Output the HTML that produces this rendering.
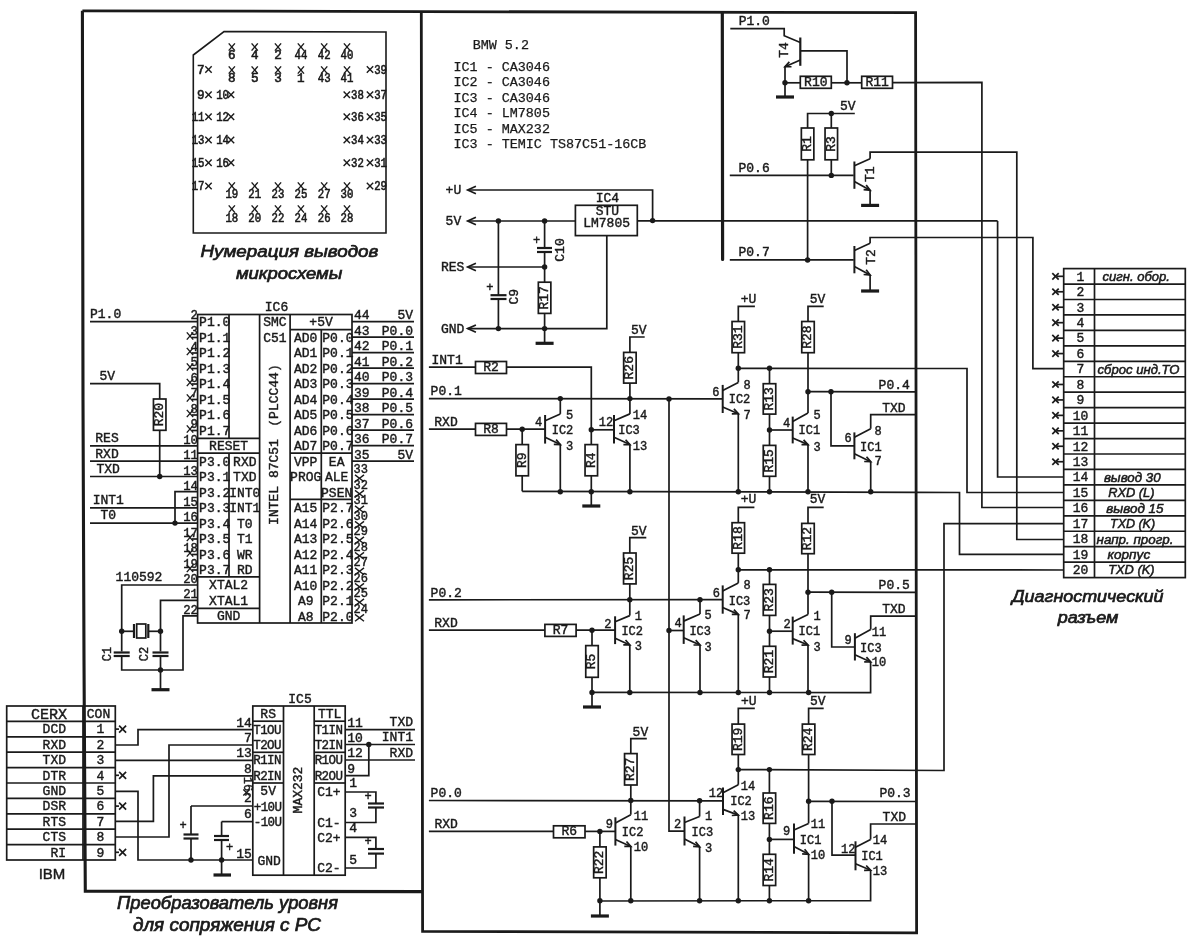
<!DOCTYPE html>
<html><head><meta charset="utf-8"><title>BMW 5.2 diagnostic adapter schematic</title>
<style>html,body{margin:0;padding:0;background:#fff;}svg{display:block;will-change:transform;} text{stroke:#1a1a1a;stroke-width:0.42px;}</style></head>
<body><svg width="1200" height="943" viewBox="0 0 1200 943">
<rect width="1200" height="943" fill="#fff"/>
<path d="M82.4,10.8 L915.6,12.7 L916.6,932.9 L422.6,931.4 L421.3,11.5" fill="none" stroke="#1a1a1a" stroke-width="2.8" stroke-linejoin="miter"/>
<path d="M82.4,10.8 L83,400 L84,660 L85.3,891.2 L422.2,891.6" fill="none" stroke="#1a1a1a" stroke-width="3.1" stroke-linejoin="miter"/>
<line x1="722.3" y1="13" x2="722.6" y2="259.5" stroke="#1a1a1a" stroke-width="3.2" stroke-linecap="round"/>
<path d="M224,31.5 L386,32 L386,233 L193.3,233 L193.3,55 Z" fill="none" stroke="#1a1a1a" stroke-width="1.6"/>
<line x1="228.70000000000002" y1="43.4" x2="234.9" y2="50.6" stroke="#1a1a1a" stroke-width="1.4"/>
<line x1="228.70000000000002" y1="50.6" x2="234.9" y2="43.4" stroke="#1a1a1a" stroke-width="1.4"/>
<text x="231.8" y="59.35" font-family="Liberation Mono" font-size="12.6" text-anchor="middle" style="stroke-width:0.6px" fill="#1a1a1a">6</text>
<line x1="251.6" y1="43.4" x2="257.8" y2="50.6" stroke="#1a1a1a" stroke-width="1.4"/>
<line x1="251.6" y1="50.6" x2="257.8" y2="43.4" stroke="#1a1a1a" stroke-width="1.4"/>
<text x="254.7" y="59.35" font-family="Liberation Mono" font-size="12.6" text-anchor="middle" style="stroke-width:0.6px" fill="#1a1a1a">4</text>
<line x1="274.9" y1="43.4" x2="281.1" y2="50.6" stroke="#1a1a1a" stroke-width="1.4"/>
<line x1="274.9" y1="50.6" x2="281.1" y2="43.4" stroke="#1a1a1a" stroke-width="1.4"/>
<text x="278" y="59.35" font-family="Liberation Mono" font-size="12.6" text-anchor="middle" style="stroke-width:0.6px" fill="#1a1a1a">2</text>
<line x1="297.79999999999995" y1="43.4" x2="304.0" y2="50.6" stroke="#1a1a1a" stroke-width="1.4"/>
<line x1="297.79999999999995" y1="50.6" x2="304.0" y2="43.4" stroke="#1a1a1a" stroke-width="1.4"/>
<text x="294.5" y="59.35" font-family="Liberation Mono" font-size="12.6" text-anchor="start" textLength="12.8" lengthAdjust="spacingAndGlyphs" style="stroke-width:0.6px" fill="#1a1a1a">44</text>
<line x1="321.09999999999997" y1="43.4" x2="327.3" y2="50.6" stroke="#1a1a1a" stroke-width="1.4"/>
<line x1="321.09999999999997" y1="50.6" x2="327.3" y2="43.4" stroke="#1a1a1a" stroke-width="1.4"/>
<text x="317.8" y="59.35" font-family="Liberation Mono" font-size="12.6" text-anchor="start" textLength="12.8" lengthAdjust="spacingAndGlyphs" style="stroke-width:0.6px" fill="#1a1a1a">42</text>
<line x1="343.9" y1="43.4" x2="350.1" y2="50.6" stroke="#1a1a1a" stroke-width="1.4"/>
<line x1="343.9" y1="50.6" x2="350.1" y2="43.4" stroke="#1a1a1a" stroke-width="1.4"/>
<text x="340.6" y="59.35" font-family="Liberation Mono" font-size="12.6" text-anchor="start" textLength="12.8" lengthAdjust="spacingAndGlyphs" style="stroke-width:0.6px" fill="#1a1a1a">40</text>
<line x1="228.70000000000002" y1="66.4" x2="234.9" y2="73.6" stroke="#1a1a1a" stroke-width="1.4"/>
<line x1="228.70000000000002" y1="73.6" x2="234.9" y2="66.4" stroke="#1a1a1a" stroke-width="1.4"/>
<text x="231.8" y="82.45" font-family="Liberation Mono" font-size="12.6" text-anchor="middle" style="stroke-width:0.6px" fill="#1a1a1a">8</text>
<line x1="251.6" y1="66.4" x2="257.8" y2="73.6" stroke="#1a1a1a" stroke-width="1.4"/>
<line x1="251.6" y1="73.6" x2="257.8" y2="66.4" stroke="#1a1a1a" stroke-width="1.4"/>
<text x="254.7" y="82.45" font-family="Liberation Mono" font-size="12.6" text-anchor="middle" style="stroke-width:0.6px" fill="#1a1a1a">5</text>
<line x1="274.9" y1="66.4" x2="281.1" y2="73.6" stroke="#1a1a1a" stroke-width="1.4"/>
<line x1="274.9" y1="73.6" x2="281.1" y2="66.4" stroke="#1a1a1a" stroke-width="1.4"/>
<text x="278" y="82.45" font-family="Liberation Mono" font-size="12.6" text-anchor="middle" style="stroke-width:0.6px" fill="#1a1a1a">3</text>
<line x1="297.79999999999995" y1="66.4" x2="304.0" y2="73.6" stroke="#1a1a1a" stroke-width="1.4"/>
<line x1="297.79999999999995" y1="73.6" x2="304.0" y2="66.4" stroke="#1a1a1a" stroke-width="1.4"/>
<text x="300.9" y="82.45" font-family="Liberation Mono" font-size="12.6" text-anchor="middle" style="stroke-width:0.6px" fill="#1a1a1a">1</text>
<line x1="321.09999999999997" y1="66.4" x2="327.3" y2="73.6" stroke="#1a1a1a" stroke-width="1.4"/>
<line x1="321.09999999999997" y1="73.6" x2="327.3" y2="66.4" stroke="#1a1a1a" stroke-width="1.4"/>
<text x="317.8" y="82.45" font-family="Liberation Mono" font-size="12.6" text-anchor="start" textLength="12.8" lengthAdjust="spacingAndGlyphs" style="stroke-width:0.6px" fill="#1a1a1a">43</text>
<line x1="343.9" y1="66.4" x2="350.1" y2="73.6" stroke="#1a1a1a" stroke-width="1.4"/>
<line x1="343.9" y1="73.6" x2="350.1" y2="66.4" stroke="#1a1a1a" stroke-width="1.4"/>
<text x="340.6" y="82.45" font-family="Liberation Mono" font-size="12.6" text-anchor="start" textLength="12.8" lengthAdjust="spacingAndGlyphs" style="stroke-width:0.6px" fill="#1a1a1a">41</text>
<line x1="228.70000000000002" y1="182.4" x2="234.9" y2="189.6" stroke="#1a1a1a" stroke-width="1.4"/>
<line x1="228.70000000000002" y1="189.6" x2="234.9" y2="182.4" stroke="#1a1a1a" stroke-width="1.4"/>
<text x="225.4" y="198.35" font-family="Liberation Mono" font-size="12.6" text-anchor="start" textLength="12.8" lengthAdjust="spacingAndGlyphs" style="stroke-width:0.6px" fill="#1a1a1a">19</text>
<line x1="251.6" y1="182.4" x2="257.8" y2="189.6" stroke="#1a1a1a" stroke-width="1.4"/>
<line x1="251.6" y1="189.6" x2="257.8" y2="182.4" stroke="#1a1a1a" stroke-width="1.4"/>
<text x="248.29999999999998" y="198.35" font-family="Liberation Mono" font-size="12.6" text-anchor="start" textLength="12.8" lengthAdjust="spacingAndGlyphs" style="stroke-width:0.6px" fill="#1a1a1a">21</text>
<line x1="274.9" y1="182.4" x2="281.1" y2="189.6" stroke="#1a1a1a" stroke-width="1.4"/>
<line x1="274.9" y1="189.6" x2="281.1" y2="182.4" stroke="#1a1a1a" stroke-width="1.4"/>
<text x="271.6" y="198.35" font-family="Liberation Mono" font-size="12.6" text-anchor="start" textLength="12.8" lengthAdjust="spacingAndGlyphs" style="stroke-width:0.6px" fill="#1a1a1a">23</text>
<line x1="297.79999999999995" y1="182.4" x2="304.0" y2="189.6" stroke="#1a1a1a" stroke-width="1.4"/>
<line x1="297.79999999999995" y1="189.6" x2="304.0" y2="182.4" stroke="#1a1a1a" stroke-width="1.4"/>
<text x="294.5" y="198.35" font-family="Liberation Mono" font-size="12.6" text-anchor="start" textLength="12.8" lengthAdjust="spacingAndGlyphs" style="stroke-width:0.6px" fill="#1a1a1a">25</text>
<line x1="321.09999999999997" y1="182.4" x2="327.3" y2="189.6" stroke="#1a1a1a" stroke-width="1.4"/>
<line x1="321.09999999999997" y1="189.6" x2="327.3" y2="182.4" stroke="#1a1a1a" stroke-width="1.4"/>
<text x="317.8" y="198.35" font-family="Liberation Mono" font-size="12.6" text-anchor="start" textLength="12.8" lengthAdjust="spacingAndGlyphs" style="stroke-width:0.6px" fill="#1a1a1a">27</text>
<line x1="343.9" y1="182.4" x2="350.1" y2="189.6" stroke="#1a1a1a" stroke-width="1.4"/>
<line x1="343.9" y1="189.6" x2="350.1" y2="182.4" stroke="#1a1a1a" stroke-width="1.4"/>
<text x="340.6" y="198.35" font-family="Liberation Mono" font-size="12.6" text-anchor="start" textLength="12.8" lengthAdjust="spacingAndGlyphs" style="stroke-width:0.6px" fill="#1a1a1a">30</text>
<line x1="228.70000000000002" y1="205.4" x2="234.9" y2="212.6" stroke="#1a1a1a" stroke-width="1.4"/>
<line x1="228.70000000000002" y1="212.6" x2="234.9" y2="205.4" stroke="#1a1a1a" stroke-width="1.4"/>
<text x="225.4" y="221.65" font-family="Liberation Mono" font-size="12.6" text-anchor="start" textLength="12.8" lengthAdjust="spacingAndGlyphs" style="stroke-width:0.6px" fill="#1a1a1a">18</text>
<line x1="251.6" y1="205.4" x2="257.8" y2="212.6" stroke="#1a1a1a" stroke-width="1.4"/>
<line x1="251.6" y1="212.6" x2="257.8" y2="205.4" stroke="#1a1a1a" stroke-width="1.4"/>
<text x="248.29999999999998" y="221.65" font-family="Liberation Mono" font-size="12.6" text-anchor="start" textLength="12.8" lengthAdjust="spacingAndGlyphs" style="stroke-width:0.6px" fill="#1a1a1a">20</text>
<line x1="274.9" y1="205.4" x2="281.1" y2="212.6" stroke="#1a1a1a" stroke-width="1.4"/>
<line x1="274.9" y1="212.6" x2="281.1" y2="205.4" stroke="#1a1a1a" stroke-width="1.4"/>
<text x="271.6" y="221.65" font-family="Liberation Mono" font-size="12.6" text-anchor="start" textLength="12.8" lengthAdjust="spacingAndGlyphs" style="stroke-width:0.6px" fill="#1a1a1a">22</text>
<line x1="297.79999999999995" y1="205.4" x2="304.0" y2="212.6" stroke="#1a1a1a" stroke-width="1.4"/>
<line x1="297.79999999999995" y1="212.6" x2="304.0" y2="205.4" stroke="#1a1a1a" stroke-width="1.4"/>
<text x="294.5" y="221.65" font-family="Liberation Mono" font-size="12.6" text-anchor="start" textLength="12.8" lengthAdjust="spacingAndGlyphs" style="stroke-width:0.6px" fill="#1a1a1a">24</text>
<line x1="321.09999999999997" y1="205.4" x2="327.3" y2="212.6" stroke="#1a1a1a" stroke-width="1.4"/>
<line x1="321.09999999999997" y1="212.6" x2="327.3" y2="205.4" stroke="#1a1a1a" stroke-width="1.4"/>
<text x="317.8" y="221.65" font-family="Liberation Mono" font-size="12.6" text-anchor="start" textLength="12.8" lengthAdjust="spacingAndGlyphs" style="stroke-width:0.6px" fill="#1a1a1a">26</text>
<line x1="343.9" y1="205.4" x2="350.1" y2="212.6" stroke="#1a1a1a" stroke-width="1.4"/>
<line x1="343.9" y1="212.6" x2="350.1" y2="205.4" stroke="#1a1a1a" stroke-width="1.4"/>
<text x="340.6" y="221.65" font-family="Liberation Mono" font-size="12.6" text-anchor="start" textLength="12.8" lengthAdjust="spacingAndGlyphs" style="stroke-width:0.6px" fill="#1a1a1a">28</text>
<text x="204.5" y="73.65" font-family="Liberation Mono" font-size="12.6" text-anchor="end" style="stroke-width:0.6px" fill="#1a1a1a">7</text>
<line x1="205.3" y1="66.3" x2="211.7" y2="72.7" stroke="#1a1a1a" stroke-width="1.4"/>
<line x1="205.3" y1="72.7" x2="211.7" y2="66.3" stroke="#1a1a1a" stroke-width="1.4"/>
<text x="204.5" y="98.85" font-family="Liberation Mono" font-size="12.6" text-anchor="end" style="stroke-width:0.6px" fill="#1a1a1a">9</text>
<line x1="205.3" y1="91.5" x2="211.7" y2="97.9" stroke="#1a1a1a" stroke-width="1.4"/>
<line x1="205.3" y1="97.9" x2="211.7" y2="91.5" stroke="#1a1a1a" stroke-width="1.4"/>
<text x="216.2" y="98.85" font-family="Liberation Mono" font-size="12.6" text-anchor="start" textLength="12.8" lengthAdjust="spacingAndGlyphs" style="stroke-width:0.6px" fill="#1a1a1a">10</text>
<line x1="227.8" y1="91.5" x2="234.2" y2="97.9" stroke="#1a1a1a" stroke-width="1.4"/>
<line x1="227.8" y1="97.9" x2="234.2" y2="91.5" stroke="#1a1a1a" stroke-width="1.4"/>
<text x="191.7" y="120.95" font-family="Liberation Mono" font-size="12.6" text-anchor="start" textLength="12.8" lengthAdjust="spacingAndGlyphs" style="stroke-width:0.6px" fill="#1a1a1a">11</text>
<line x1="205.3" y1="113.6" x2="211.7" y2="120.0" stroke="#1a1a1a" stroke-width="1.4"/>
<line x1="205.3" y1="120.0" x2="211.7" y2="113.6" stroke="#1a1a1a" stroke-width="1.4"/>
<text x="216.2" y="120.95" font-family="Liberation Mono" font-size="12.6" text-anchor="start" textLength="12.8" lengthAdjust="spacingAndGlyphs" style="stroke-width:0.6px" fill="#1a1a1a">12</text>
<line x1="227.8" y1="113.6" x2="234.2" y2="120.0" stroke="#1a1a1a" stroke-width="1.4"/>
<line x1="227.8" y1="120.0" x2="234.2" y2="113.6" stroke="#1a1a1a" stroke-width="1.4"/>
<text x="191.7" y="144.15" font-family="Liberation Mono" font-size="12.6" text-anchor="start" textLength="12.8" lengthAdjust="spacingAndGlyphs" style="stroke-width:0.6px" fill="#1a1a1a">13</text>
<line x1="205.3" y1="136.8" x2="211.7" y2="143.2" stroke="#1a1a1a" stroke-width="1.4"/>
<line x1="205.3" y1="143.2" x2="211.7" y2="136.8" stroke="#1a1a1a" stroke-width="1.4"/>
<text x="216.2" y="144.15" font-family="Liberation Mono" font-size="12.6" text-anchor="start" textLength="12.8" lengthAdjust="spacingAndGlyphs" style="stroke-width:0.6px" fill="#1a1a1a">14</text>
<line x1="227.8" y1="136.8" x2="234.2" y2="143.2" stroke="#1a1a1a" stroke-width="1.4"/>
<line x1="227.8" y1="143.2" x2="234.2" y2="136.8" stroke="#1a1a1a" stroke-width="1.4"/>
<text x="191.7" y="166.95" font-family="Liberation Mono" font-size="12.6" text-anchor="start" textLength="12.8" lengthAdjust="spacingAndGlyphs" style="stroke-width:0.6px" fill="#1a1a1a">15</text>
<line x1="205.3" y1="159.60000000000002" x2="211.7" y2="166.0" stroke="#1a1a1a" stroke-width="1.4"/>
<line x1="205.3" y1="166.0" x2="211.7" y2="159.60000000000002" stroke="#1a1a1a" stroke-width="1.4"/>
<text x="216.2" y="166.95" font-family="Liberation Mono" font-size="12.6" text-anchor="start" textLength="12.8" lengthAdjust="spacingAndGlyphs" style="stroke-width:0.6px" fill="#1a1a1a">16</text>
<line x1="227.8" y1="159.60000000000002" x2="234.2" y2="166.0" stroke="#1a1a1a" stroke-width="1.4"/>
<line x1="227.8" y1="166.0" x2="234.2" y2="159.60000000000002" stroke="#1a1a1a" stroke-width="1.4"/>
<text x="191.7" y="190.15" font-family="Liberation Mono" font-size="12.6" text-anchor="start" textLength="12.8" lengthAdjust="spacingAndGlyphs" style="stroke-width:0.6px" fill="#1a1a1a">17</text>
<line x1="205.3" y1="182.8" x2="211.7" y2="189.2" stroke="#1a1a1a" stroke-width="1.4"/>
<line x1="205.3" y1="189.2" x2="211.7" y2="182.8" stroke="#1a1a1a" stroke-width="1.4"/>
<line x1="366.8" y1="66.3" x2="373.2" y2="72.7" stroke="#1a1a1a" stroke-width="1.4"/>
<line x1="366.8" y1="72.7" x2="373.2" y2="66.3" stroke="#1a1a1a" stroke-width="1.4"/>
<text x="374.2" y="73.65" font-family="Liberation Mono" font-size="12.6" text-anchor="start" textLength="12.8" lengthAdjust="spacingAndGlyphs" style="stroke-width:0.6px" fill="#1a1a1a">39</text>
<line x1="343.6" y1="91.5" x2="350.0" y2="97.9" stroke="#1a1a1a" stroke-width="1.4"/>
<line x1="343.6" y1="97.9" x2="350.0" y2="91.5" stroke="#1a1a1a" stroke-width="1.4"/>
<text x="351" y="98.85" font-family="Liberation Mono" font-size="12.6" text-anchor="start" textLength="12.8" lengthAdjust="spacingAndGlyphs" style="stroke-width:0.6px" fill="#1a1a1a">38</text>
<line x1="366.8" y1="91.5" x2="373.2" y2="97.9" stroke="#1a1a1a" stroke-width="1.4"/>
<line x1="366.8" y1="97.9" x2="373.2" y2="91.5" stroke="#1a1a1a" stroke-width="1.4"/>
<text x="374.2" y="98.85" font-family="Liberation Mono" font-size="12.6" text-anchor="start" textLength="12.8" lengthAdjust="spacingAndGlyphs" style="stroke-width:0.6px" fill="#1a1a1a">37</text>
<line x1="343.6" y1="113.6" x2="350.0" y2="120.0" stroke="#1a1a1a" stroke-width="1.4"/>
<line x1="343.6" y1="120.0" x2="350.0" y2="113.6" stroke="#1a1a1a" stroke-width="1.4"/>
<text x="351" y="120.95" font-family="Liberation Mono" font-size="12.6" text-anchor="start" textLength="12.8" lengthAdjust="spacingAndGlyphs" style="stroke-width:0.6px" fill="#1a1a1a">36</text>
<line x1="366.8" y1="113.6" x2="373.2" y2="120.0" stroke="#1a1a1a" stroke-width="1.4"/>
<line x1="366.8" y1="120.0" x2="373.2" y2="113.6" stroke="#1a1a1a" stroke-width="1.4"/>
<text x="374.2" y="120.95" font-family="Liberation Mono" font-size="12.6" text-anchor="start" textLength="12.8" lengthAdjust="spacingAndGlyphs" style="stroke-width:0.6px" fill="#1a1a1a">35</text>
<line x1="343.6" y1="136.8" x2="350.0" y2="143.2" stroke="#1a1a1a" stroke-width="1.4"/>
<line x1="343.6" y1="143.2" x2="350.0" y2="136.8" stroke="#1a1a1a" stroke-width="1.4"/>
<text x="351" y="144.15" font-family="Liberation Mono" font-size="12.6" text-anchor="start" textLength="12.8" lengthAdjust="spacingAndGlyphs" style="stroke-width:0.6px" fill="#1a1a1a">34</text>
<line x1="366.8" y1="136.8" x2="373.2" y2="143.2" stroke="#1a1a1a" stroke-width="1.4"/>
<line x1="366.8" y1="143.2" x2="373.2" y2="136.8" stroke="#1a1a1a" stroke-width="1.4"/>
<text x="374.2" y="144.15" font-family="Liberation Mono" font-size="12.6" text-anchor="start" textLength="12.8" lengthAdjust="spacingAndGlyphs" style="stroke-width:0.6px" fill="#1a1a1a">33</text>
<line x1="343.6" y1="159.60000000000002" x2="350.0" y2="166.0" stroke="#1a1a1a" stroke-width="1.4"/>
<line x1="343.6" y1="166.0" x2="350.0" y2="159.60000000000002" stroke="#1a1a1a" stroke-width="1.4"/>
<text x="351" y="166.95" font-family="Liberation Mono" font-size="12.6" text-anchor="start" textLength="12.8" lengthAdjust="spacingAndGlyphs" style="stroke-width:0.6px" fill="#1a1a1a">32</text>
<line x1="366.8" y1="159.60000000000002" x2="373.2" y2="166.0" stroke="#1a1a1a" stroke-width="1.4"/>
<line x1="366.8" y1="166.0" x2="373.2" y2="159.60000000000002" stroke="#1a1a1a" stroke-width="1.4"/>
<text x="374.2" y="166.95" font-family="Liberation Mono" font-size="12.6" text-anchor="start" textLength="12.8" lengthAdjust="spacingAndGlyphs" style="stroke-width:0.6px" fill="#1a1a1a">31</text>
<line x1="366.8" y1="182.8" x2="373.2" y2="189.2" stroke="#1a1a1a" stroke-width="1.4"/>
<line x1="366.8" y1="189.2" x2="373.2" y2="182.8" stroke="#1a1a1a" stroke-width="1.4"/>
<text x="374.2" y="190.15" font-family="Liberation Mono" font-size="12.6" text-anchor="start" textLength="12.8" lengthAdjust="spacingAndGlyphs" style="stroke-width:0.6px" fill="#1a1a1a">29</text>
<text x="200.5" y="257.1" font-family="Liberation Sans" font-size="16.7" text-anchor="start" font-style="italic" textLength="177.9" lengthAdjust="spacingAndGlyphs" style="stroke-width:0.7px" fill="#1a1a1a">Нумерация выводов</text>
<text x="235.9" y="279.1" font-family="Liberation Sans" font-size="16.7" text-anchor="start" font-style="italic" textLength="106.4" lengthAdjust="spacingAndGlyphs" style="stroke-width:0.7px" fill="#1a1a1a">микросхемы</text>
<rect x="197.6" y="314.5" width="154.4" height="308.5" fill="none" stroke="#1a1a1a" stroke-width="1.7"/>
<line x1="229" y1="314.5" x2="229" y2="438.3" stroke="#1a1a1a" stroke-width="1.7"/>
<line x1="229" y1="453.2" x2="229" y2="576.8" stroke="#1a1a1a" stroke-width="1.7"/>
<line x1="259.6" y1="314.5" x2="259.6" y2="623" stroke="#1a1a1a" stroke-width="1.7"/>
<line x1="290.1" y1="314.5" x2="290.1" y2="623" stroke="#1a1a1a" stroke-width="1.7"/>
<line x1="321.3" y1="329.6" x2="321.3" y2="623" stroke="#1a1a1a" stroke-width="1.7"/>
<line x1="197.6" y1="438.3" x2="259.6" y2="438.3" stroke="#1a1a1a" stroke-width="1.7"/>
<line x1="197.6" y1="453.2" x2="259.6" y2="453.2" stroke="#1a1a1a" stroke-width="1.7"/>
<line x1="197.6" y1="576.8" x2="259.6" y2="576.8" stroke="#1a1a1a" stroke-width="1.7"/>
<line x1="197.6" y1="608.3" x2="259.6" y2="608.3" stroke="#1a1a1a" stroke-width="1.7"/>
<line x1="290.1" y1="329.6" x2="352" y2="329.6" stroke="#1a1a1a" stroke-width="1.7"/>
<line x1="290.1" y1="453.2" x2="352" y2="453.2" stroke="#1a1a1a" stroke-width="1.7"/>
<line x1="290.1" y1="499.4" x2="352" y2="499.4" stroke="#1a1a1a" stroke-width="1.7"/>
<text x="276.5" y="311" font-family="Liberation Mono" font-size="13" text-anchor="middle" fill="#1a1a1a">IC6</text>
<text x="199.1" y="326.28" font-family="Liberation Mono" font-size="13" text-anchor="start" fill="#1a1a1a">P1.0</text>
<text x="199.1" y="341.78" font-family="Liberation Mono" font-size="13" text-anchor="start" fill="#1a1a1a">P1.1</text>
<text x="199.1" y="357.28" font-family="Liberation Mono" font-size="13" text-anchor="start" fill="#1a1a1a">P1.2</text>
<text x="199.1" y="372.78" font-family="Liberation Mono" font-size="13" text-anchor="start" fill="#1a1a1a">P1.3</text>
<text x="199.1" y="388.28" font-family="Liberation Mono" font-size="13" text-anchor="start" fill="#1a1a1a">P1.4</text>
<text x="199.1" y="403.78" font-family="Liberation Mono" font-size="13" text-anchor="start" fill="#1a1a1a">P1.5</text>
<text x="199.1" y="419.28" font-family="Liberation Mono" font-size="13" text-anchor="start" fill="#1a1a1a">P1.6</text>
<text x="199.1" y="434.78" font-family="Liberation Mono" font-size="13" text-anchor="start" fill="#1a1a1a">P1.7</text>
<text x="228.60000000000002" y="450.28" font-family="Liberation Mono" font-size="13" text-anchor="middle" fill="#1a1a1a">RESET</text>
<text x="199.1" y="465.78" font-family="Liberation Mono" font-size="13" text-anchor="start" fill="#1a1a1a">P3.0</text>
<text x="199.1" y="481.28" font-family="Liberation Mono" font-size="13" text-anchor="start" fill="#1a1a1a">P3.1</text>
<text x="199.1" y="496.78" font-family="Liberation Mono" font-size="13" text-anchor="start" fill="#1a1a1a">P3.2</text>
<text x="199.1" y="512.28" font-family="Liberation Mono" font-size="13" text-anchor="start" fill="#1a1a1a">P3.3</text>
<text x="199.1" y="527.78" font-family="Liberation Mono" font-size="13" text-anchor="start" fill="#1a1a1a">P3.4</text>
<text x="199.1" y="543.28" font-family="Liberation Mono" font-size="13" text-anchor="start" fill="#1a1a1a">P3.5</text>
<text x="199.1" y="558.78" font-family="Liberation Mono" font-size="13" text-anchor="start" fill="#1a1a1a">P3.6</text>
<text x="199.1" y="574.28" font-family="Liberation Mono" font-size="13" text-anchor="start" fill="#1a1a1a">P3.7</text>
<text x="244.8" y="465.78" font-family="Liberation Mono" font-size="13" text-anchor="middle" fill="#1a1a1a">RXD</text>
<text x="244.8" y="481.28" font-family="Liberation Mono" font-size="13" text-anchor="middle" fill="#1a1a1a">TXD</text>
<text x="244.8" y="496.78" font-family="Liberation Mono" font-size="13" text-anchor="middle" fill="#1a1a1a">INT0</text>
<text x="244.8" y="512.28" font-family="Liberation Mono" font-size="13" text-anchor="middle" fill="#1a1a1a">INT1</text>
<text x="244.8" y="527.78" font-family="Liberation Mono" font-size="13" text-anchor="middle" fill="#1a1a1a">T0</text>
<text x="244.8" y="543.28" font-family="Liberation Mono" font-size="13" text-anchor="middle" fill="#1a1a1a">T1</text>
<text x="244.8" y="558.78" font-family="Liberation Mono" font-size="13" text-anchor="middle" fill="#1a1a1a">WR</text>
<text x="244.8" y="574.28" font-family="Liberation Mono" font-size="13" text-anchor="middle" fill="#1a1a1a">RD</text>
<text x="228.60000000000002" y="589.28" font-family="Liberation Mono" font-size="13" text-anchor="middle" fill="#1a1a1a">XTAL2</text>
<text x="228.60000000000002" y="604.78" font-family="Liberation Mono" font-size="13" text-anchor="middle" fill="#1a1a1a">XTAL1</text>
<text x="228.60000000000002" y="619.78" font-family="Liberation Mono" font-size="13" text-anchor="middle" fill="#1a1a1a">GND</text>
<text x="274.85" y="326.28" font-family="Liberation Mono" font-size="13" text-anchor="middle" fill="#1a1a1a">SMC</text>
<text x="274.85" y="341.78" font-family="Liberation Mono" font-size="13" text-anchor="middle" fill="#1a1a1a">C51</text>
<text x="274.5" y="395.5" font-family="Liberation Mono" font-size="13" text-anchor="middle" dominant-baseline="central" transform="rotate(-90 274.5 395.5)" fill="#1a1a1a">(PLCC44)</text>
<text x="274.5" y="482" font-family="Liberation Mono" font-size="13" text-anchor="middle" dominant-baseline="central" transform="rotate(-90 274.5 482)" fill="#1a1a1a">INTEL 87C51</text>
<text x="321.05" y="326.28" font-family="Liberation Mono" font-size="13" text-anchor="middle" fill="#1a1a1a">+5V</text>
<text x="305.70000000000005" y="341.78" font-family="Liberation Mono" font-size="13" text-anchor="middle" fill="#1a1a1a">AD0</text>
<text x="322.3" y="341.78" font-family="Liberation Mono" font-size="13" text-anchor="start" fill="#1a1a1a">P0.0</text>
<text x="305.70000000000005" y="357.28" font-family="Liberation Mono" font-size="13" text-anchor="middle" fill="#1a1a1a">AD1</text>
<text x="322.3" y="357.28" font-family="Liberation Mono" font-size="13" text-anchor="start" fill="#1a1a1a">P0.1</text>
<text x="305.70000000000005" y="372.78" font-family="Liberation Mono" font-size="13" text-anchor="middle" fill="#1a1a1a">AD2</text>
<text x="322.3" y="372.78" font-family="Liberation Mono" font-size="13" text-anchor="start" fill="#1a1a1a">P0.2</text>
<text x="305.70000000000005" y="388.28" font-family="Liberation Mono" font-size="13" text-anchor="middle" fill="#1a1a1a">AD3</text>
<text x="322.3" y="388.28" font-family="Liberation Mono" font-size="13" text-anchor="start" fill="#1a1a1a">P0.3</text>
<text x="305.70000000000005" y="403.78" font-family="Liberation Mono" font-size="13" text-anchor="middle" fill="#1a1a1a">AD4</text>
<text x="322.3" y="403.78" font-family="Liberation Mono" font-size="13" text-anchor="start" fill="#1a1a1a">P0.4</text>
<text x="305.70000000000005" y="419.28" font-family="Liberation Mono" font-size="13" text-anchor="middle" fill="#1a1a1a">AD5</text>
<text x="322.3" y="419.28" font-family="Liberation Mono" font-size="13" text-anchor="start" fill="#1a1a1a">P0.5</text>
<text x="305.70000000000005" y="434.78" font-family="Liberation Mono" font-size="13" text-anchor="middle" fill="#1a1a1a">AD6</text>
<text x="322.3" y="434.78" font-family="Liberation Mono" font-size="13" text-anchor="start" fill="#1a1a1a">P0.6</text>
<text x="305.70000000000005" y="450.28" font-family="Liberation Mono" font-size="13" text-anchor="middle" fill="#1a1a1a">AD7</text>
<text x="322.3" y="450.28" font-family="Liberation Mono" font-size="13" text-anchor="start" fill="#1a1a1a">P0.7</text>
<text x="305.70000000000005" y="465.78" font-family="Liberation Mono" font-size="13" text-anchor="middle" fill="#1a1a1a">VPP</text>
<text x="336.65" y="465.78" font-family="Liberation Mono" font-size="13" text-anchor="middle" fill="#1a1a1a">EA</text>
<text x="305.70000000000005" y="481.28" font-family="Liberation Mono" font-size="13" text-anchor="middle" fill="#1a1a1a">PROG</text>
<text x="336.65" y="481.28" font-family="Liberation Mono" font-size="13" text-anchor="middle" fill="#1a1a1a">ALE</text>
<text x="336.65" y="496.78" font-family="Liberation Mono" font-size="13" text-anchor="middle" fill="#1a1a1a">PSEN</text>
<text x="305.70000000000005" y="512.28" font-family="Liberation Mono" font-size="13" text-anchor="middle" fill="#1a1a1a">A15</text>
<text x="322.3" y="512.28" font-family="Liberation Mono" font-size="13" text-anchor="start" fill="#1a1a1a">P2.7</text>
<text x="305.70000000000005" y="527.78" font-family="Liberation Mono" font-size="13" text-anchor="middle" fill="#1a1a1a">A14</text>
<text x="322.3" y="527.78" font-family="Liberation Mono" font-size="13" text-anchor="start" fill="#1a1a1a">P2.6</text>
<text x="305.70000000000005" y="543.28" font-family="Liberation Mono" font-size="13" text-anchor="middle" fill="#1a1a1a">A13</text>
<text x="322.3" y="543.28" font-family="Liberation Mono" font-size="13" text-anchor="start" fill="#1a1a1a">P2.5</text>
<text x="305.70000000000005" y="558.78" font-family="Liberation Mono" font-size="13" text-anchor="middle" fill="#1a1a1a">A12</text>
<text x="322.3" y="558.78" font-family="Liberation Mono" font-size="13" text-anchor="start" fill="#1a1a1a">P2.4</text>
<text x="305.70000000000005" y="574.28" font-family="Liberation Mono" font-size="13" text-anchor="middle" fill="#1a1a1a">A11</text>
<text x="322.3" y="574.28" font-family="Liberation Mono" font-size="13" text-anchor="start" fill="#1a1a1a">P2.3</text>
<text x="305.70000000000005" y="589.78" font-family="Liberation Mono" font-size="13" text-anchor="middle" fill="#1a1a1a">A10</text>
<text x="322.3" y="589.78" font-family="Liberation Mono" font-size="13" text-anchor="start" fill="#1a1a1a">P2.2</text>
<text x="305.70000000000005" y="605.28" font-family="Liberation Mono" font-size="13" text-anchor="middle" fill="#1a1a1a">A9</text>
<text x="322.3" y="605.28" font-family="Liberation Mono" font-size="13" text-anchor="start" fill="#1a1a1a">P2.1</text>
<text x="305.70000000000005" y="620.78" font-family="Liberation Mono" font-size="13" text-anchor="middle" fill="#1a1a1a">A8</text>
<text x="322.3" y="620.78" font-family="Liberation Mono" font-size="13" text-anchor="start" fill="#1a1a1a">P2.0</text>
<line x1="352" y1="321.6" x2="414" y2="321.6" stroke="#1a1a1a" stroke-width="1.7"/>
<text x="354" y="319.1" font-family="Liberation Mono" font-size="13" text-anchor="start" fill="#1a1a1a">44</text>
<text x="413" y="319.1" font-family="Liberation Mono" font-size="13" text-anchor="end" fill="#1a1a1a">5V</text>
<line x1="352" y1="337.1" x2="414" y2="337.1" stroke="#1a1a1a" stroke-width="1.7"/>
<text x="354" y="334.6" font-family="Liberation Mono" font-size="13" text-anchor="start" fill="#1a1a1a">43</text>
<text x="413" y="334.6" font-family="Liberation Mono" font-size="13" text-anchor="end" fill="#1a1a1a">P0.0</text>
<line x1="352" y1="352.6" x2="414" y2="352.6" stroke="#1a1a1a" stroke-width="1.7"/>
<text x="354" y="350.1" font-family="Liberation Mono" font-size="13" text-anchor="start" fill="#1a1a1a">42</text>
<text x="413" y="350.1" font-family="Liberation Mono" font-size="13" text-anchor="end" fill="#1a1a1a">P0.1</text>
<line x1="352" y1="368.1" x2="414" y2="368.1" stroke="#1a1a1a" stroke-width="1.7"/>
<text x="354" y="365.6" font-family="Liberation Mono" font-size="13" text-anchor="start" fill="#1a1a1a">41</text>
<text x="413" y="365.6" font-family="Liberation Mono" font-size="13" text-anchor="end" fill="#1a1a1a">P0.2</text>
<line x1="352" y1="383.6" x2="414" y2="383.6" stroke="#1a1a1a" stroke-width="1.7"/>
<text x="354" y="381.1" font-family="Liberation Mono" font-size="13" text-anchor="start" fill="#1a1a1a">40</text>
<text x="413" y="381.1" font-family="Liberation Mono" font-size="13" text-anchor="end" fill="#1a1a1a">P0.3</text>
<line x1="352" y1="399.1" x2="414" y2="399.1" stroke="#1a1a1a" stroke-width="1.7"/>
<text x="354" y="396.6" font-family="Liberation Mono" font-size="13" text-anchor="start" fill="#1a1a1a">39</text>
<text x="413" y="396.6" font-family="Liberation Mono" font-size="13" text-anchor="end" fill="#1a1a1a">P0.4</text>
<line x1="352" y1="414.6" x2="414" y2="414.6" stroke="#1a1a1a" stroke-width="1.7"/>
<text x="354" y="412.1" font-family="Liberation Mono" font-size="13" text-anchor="start" fill="#1a1a1a">38</text>
<text x="413" y="412.1" font-family="Liberation Mono" font-size="13" text-anchor="end" fill="#1a1a1a">P0.5</text>
<line x1="352" y1="430.1" x2="414" y2="430.1" stroke="#1a1a1a" stroke-width="1.7"/>
<text x="354" y="427.6" font-family="Liberation Mono" font-size="13" text-anchor="start" fill="#1a1a1a">37</text>
<text x="413" y="427.6" font-family="Liberation Mono" font-size="13" text-anchor="end" fill="#1a1a1a">P0.6</text>
<line x1="352" y1="445.6" x2="414" y2="445.6" stroke="#1a1a1a" stroke-width="1.7"/>
<text x="354" y="443.1" font-family="Liberation Mono" font-size="13" text-anchor="start" fill="#1a1a1a">36</text>
<text x="413" y="443.1" font-family="Liberation Mono" font-size="13" text-anchor="end" fill="#1a1a1a">P0.7</text>
<line x1="352" y1="461.1" x2="414" y2="461.1" stroke="#1a1a1a" stroke-width="1.7"/>
<text x="354" y="458.6" font-family="Liberation Mono" font-size="13" text-anchor="start" fill="#1a1a1a">35</text>
<text x="413" y="458.6" font-family="Liberation Mono" font-size="13" text-anchor="end" fill="#1a1a1a">5V</text>
<text x="353.5" y="473.4" font-family="Liberation Mono" font-size="12" text-anchor="start" fill="#1a1a1a">33</text>
<line x1="355.0" y1="474.90000000000003" x2="364.0" y2="481.7" stroke="#1a1a1a" stroke-width="1.4"/>
<line x1="355.0" y1="481.7" x2="364.0" y2="474.90000000000003" stroke="#1a1a1a" stroke-width="1.4"/>
<text x="353.5" y="488.9" font-family="Liberation Mono" font-size="12" text-anchor="start" fill="#1a1a1a">32</text>
<line x1="355.0" y1="490.40000000000003" x2="364.0" y2="497.2" stroke="#1a1a1a" stroke-width="1.4"/>
<line x1="355.0" y1="497.2" x2="364.0" y2="490.40000000000003" stroke="#1a1a1a" stroke-width="1.4"/>
<text x="353.5" y="504.4" font-family="Liberation Mono" font-size="12" text-anchor="start" fill="#1a1a1a">31</text>
<line x1="355.0" y1="505.90000000000003" x2="364.0" y2="512.7" stroke="#1a1a1a" stroke-width="1.4"/>
<line x1="355.0" y1="512.7" x2="364.0" y2="505.90000000000003" stroke="#1a1a1a" stroke-width="1.4"/>
<text x="353.5" y="519.9" font-family="Liberation Mono" font-size="12" text-anchor="start" fill="#1a1a1a">30</text>
<line x1="355.0" y1="521.4" x2="364.0" y2="528.1999999999999" stroke="#1a1a1a" stroke-width="1.4"/>
<line x1="355.0" y1="528.1999999999999" x2="364.0" y2="521.4" stroke="#1a1a1a" stroke-width="1.4"/>
<text x="353.5" y="535.4" font-family="Liberation Mono" font-size="12" text-anchor="start" fill="#1a1a1a">29</text>
<line x1="355.0" y1="536.9" x2="364.0" y2="543.6999999999999" stroke="#1a1a1a" stroke-width="1.4"/>
<line x1="355.0" y1="543.6999999999999" x2="364.0" y2="536.9" stroke="#1a1a1a" stroke-width="1.4"/>
<text x="353.5" y="550.9" font-family="Liberation Mono" font-size="12" text-anchor="start" fill="#1a1a1a">28</text>
<line x1="355.0" y1="552.4" x2="364.0" y2="559.1999999999999" stroke="#1a1a1a" stroke-width="1.4"/>
<line x1="355.0" y1="559.1999999999999" x2="364.0" y2="552.4" stroke="#1a1a1a" stroke-width="1.4"/>
<text x="353.5" y="566.4" font-family="Liberation Mono" font-size="12" text-anchor="start" fill="#1a1a1a">27</text>
<line x1="355.0" y1="567.9" x2="364.0" y2="574.6999999999999" stroke="#1a1a1a" stroke-width="1.4"/>
<line x1="355.0" y1="574.6999999999999" x2="364.0" y2="567.9" stroke="#1a1a1a" stroke-width="1.4"/>
<text x="353.5" y="581.9" font-family="Liberation Mono" font-size="12" text-anchor="start" fill="#1a1a1a">26</text>
<line x1="355.0" y1="583.4" x2="364.0" y2="590.1999999999999" stroke="#1a1a1a" stroke-width="1.4"/>
<line x1="355.0" y1="590.1999999999999" x2="364.0" y2="583.4" stroke="#1a1a1a" stroke-width="1.4"/>
<text x="353.5" y="597.4" font-family="Liberation Mono" font-size="12" text-anchor="start" fill="#1a1a1a">25</text>
<line x1="355.0" y1="598.9" x2="364.0" y2="605.6999999999999" stroke="#1a1a1a" stroke-width="1.4"/>
<line x1="355.0" y1="605.6999999999999" x2="364.0" y2="598.9" stroke="#1a1a1a" stroke-width="1.4"/>
<text x="353.5" y="612.9" font-family="Liberation Mono" font-size="12" text-anchor="start" fill="#1a1a1a">24</text>
<line x1="355.0" y1="614.4" x2="364.0" y2="621.1999999999999" stroke="#1a1a1a" stroke-width="1.4"/>
<line x1="355.0" y1="621.1999999999999" x2="364.0" y2="614.4" stroke="#1a1a1a" stroke-width="1.4"/>
<text x="198" y="319.4" font-family="Liberation Mono" font-size="12.3" text-anchor="end" fill="#1a1a1a">2</text>
<text x="198" y="335.2" font-family="Liberation Mono" font-size="12.3" text-anchor="end" fill="#1a1a1a">3</text>
<line x1="192" y1="337.5" x2="197.6" y2="337.5" stroke="#1a1a1a" stroke-width="1.7"/>
<line x1="186.8" y1="332.4" x2="193.2" y2="339.6" stroke="#1a1a1a" stroke-width="1.4"/>
<line x1="186.8" y1="339.6" x2="193.2" y2="332.4" stroke="#1a1a1a" stroke-width="1.4"/>
<text x="198" y="350.7" font-family="Liberation Mono" font-size="12.3" text-anchor="end" fill="#1a1a1a">4</text>
<line x1="192" y1="353.0" x2="197.6" y2="353.0" stroke="#1a1a1a" stroke-width="1.7"/>
<line x1="186.8" y1="347.9" x2="193.2" y2="355.1" stroke="#1a1a1a" stroke-width="1.4"/>
<line x1="186.8" y1="355.1" x2="193.2" y2="347.9" stroke="#1a1a1a" stroke-width="1.4"/>
<text x="198" y="366.2" font-family="Liberation Mono" font-size="12.3" text-anchor="end" fill="#1a1a1a">5</text>
<line x1="192" y1="368.5" x2="197.6" y2="368.5" stroke="#1a1a1a" stroke-width="1.7"/>
<line x1="186.8" y1="363.4" x2="193.2" y2="370.6" stroke="#1a1a1a" stroke-width="1.4"/>
<line x1="186.8" y1="370.6" x2="193.2" y2="363.4" stroke="#1a1a1a" stroke-width="1.4"/>
<text x="198" y="381.7" font-family="Liberation Mono" font-size="12.3" text-anchor="end" fill="#1a1a1a">6</text>
<line x1="192" y1="384.0" x2="197.6" y2="384.0" stroke="#1a1a1a" stroke-width="1.7"/>
<line x1="186.8" y1="378.9" x2="193.2" y2="386.1" stroke="#1a1a1a" stroke-width="1.4"/>
<line x1="186.8" y1="386.1" x2="193.2" y2="378.9" stroke="#1a1a1a" stroke-width="1.4"/>
<text x="198" y="397.2" font-family="Liberation Mono" font-size="12.3" text-anchor="end" fill="#1a1a1a">7</text>
<line x1="192" y1="399.5" x2="197.6" y2="399.5" stroke="#1a1a1a" stroke-width="1.7"/>
<line x1="186.8" y1="394.4" x2="193.2" y2="401.6" stroke="#1a1a1a" stroke-width="1.4"/>
<line x1="186.8" y1="401.6" x2="193.2" y2="394.4" stroke="#1a1a1a" stroke-width="1.4"/>
<text x="198" y="412.7" font-family="Liberation Mono" font-size="12.3" text-anchor="end" fill="#1a1a1a">8</text>
<line x1="192" y1="415.0" x2="197.6" y2="415.0" stroke="#1a1a1a" stroke-width="1.7"/>
<line x1="186.8" y1="409.9" x2="193.2" y2="417.1" stroke="#1a1a1a" stroke-width="1.4"/>
<line x1="186.8" y1="417.1" x2="193.2" y2="409.9" stroke="#1a1a1a" stroke-width="1.4"/>
<text x="198" y="428.2" font-family="Liberation Mono" font-size="12.3" text-anchor="end" fill="#1a1a1a">9</text>
<line x1="192" y1="430.5" x2="197.6" y2="430.5" stroke="#1a1a1a" stroke-width="1.7"/>
<line x1="186.8" y1="425.4" x2="193.2" y2="432.6" stroke="#1a1a1a" stroke-width="1.4"/>
<line x1="186.8" y1="432.6" x2="193.2" y2="425.4" stroke="#1a1a1a" stroke-width="1.4"/>
<text x="198" y="443.7" font-family="Liberation Mono" font-size="12.3" text-anchor="end" fill="#1a1a1a">10</text>
<text x="198" y="459.2" font-family="Liberation Mono" font-size="12.3" text-anchor="end" fill="#1a1a1a">11</text>
<text x="198" y="474.7" font-family="Liberation Mono" font-size="12.3" text-anchor="end" fill="#1a1a1a">13</text>
<text x="198" y="490.2" font-family="Liberation Mono" font-size="12.3" text-anchor="end" fill="#1a1a1a">14</text>
<text x="198" y="505.7" font-family="Liberation Mono" font-size="12.3" text-anchor="end" fill="#1a1a1a">15</text>
<text x="198" y="521.2" font-family="Liberation Mono" font-size="12.3" text-anchor="end" fill="#1a1a1a">16</text>
<text x="198" y="536.7" font-family="Liberation Mono" font-size="12.3" text-anchor="end" fill="#1a1a1a">17</text>
<line x1="192" y1="539.0" x2="197.6" y2="539.0" stroke="#1a1a1a" stroke-width="1.7"/>
<line x1="186.8" y1="533.9" x2="193.2" y2="541.1" stroke="#1a1a1a" stroke-width="1.4"/>
<line x1="186.8" y1="541.1" x2="193.2" y2="533.9" stroke="#1a1a1a" stroke-width="1.4"/>
<text x="198" y="552.2" font-family="Liberation Mono" font-size="12.3" text-anchor="end" fill="#1a1a1a">18</text>
<line x1="192" y1="554.5" x2="197.6" y2="554.5" stroke="#1a1a1a" stroke-width="1.7"/>
<line x1="186.8" y1="549.4" x2="193.2" y2="556.6" stroke="#1a1a1a" stroke-width="1.4"/>
<line x1="186.8" y1="556.6" x2="193.2" y2="549.4" stroke="#1a1a1a" stroke-width="1.4"/>
<text x="198" y="567.7" font-family="Liberation Mono" font-size="12.3" text-anchor="end" fill="#1a1a1a">19</text>
<line x1="192" y1="570.0" x2="197.6" y2="570.0" stroke="#1a1a1a" stroke-width="1.7"/>
<line x1="186.8" y1="564.9" x2="193.2" y2="572.1" stroke="#1a1a1a" stroke-width="1.4"/>
<line x1="186.8" y1="572.1" x2="193.2" y2="564.9" stroke="#1a1a1a" stroke-width="1.4"/>
<text x="198" y="582.7" font-family="Liberation Mono" font-size="12.3" text-anchor="end" fill="#1a1a1a">20</text>
<text x="198" y="598.0" font-family="Liberation Mono" font-size="12.3" text-anchor="end" fill="#1a1a1a">21</text>
<text x="198" y="613.5" font-family="Liberation Mono" font-size="12.3" text-anchor="end" fill="#1a1a1a">22</text>
<line x1="90" y1="321.7" x2="197.6" y2="321.7" stroke="#1a1a1a" stroke-width="1.7"/>
<text x="90" y="318" font-family="Liberation Mono" font-size="13" text-anchor="start" fill="#1a1a1a">P1.0</text>
<polyline fill="none" stroke="#1a1a1a" stroke-width="1.7" points="90,383.6 159.7,383.6 159.7,399"/>
<text x="99.5" y="379.7" font-family="Liberation Mono" font-size="13" text-anchor="start" fill="#1a1a1a">5V</text>
<rect x="153.45" y="399" width="12.5" height="31.3" fill="#fff" stroke="#1a1a1a" stroke-width="1.7"/>
<text x="159.7" y="414.65" font-family="Liberation Mono" font-size="13" text-anchor="middle" dominant-baseline="central" transform="rotate(-90 159.7 414.65)" fill="#1a1a1a">R20</text>
<line x1="159.7" y1="430.3" x2="159.7" y2="476.5" stroke="#1a1a1a" stroke-width="1.7"/>
<circle cx="159.7" cy="476.5" r="2.7" fill="#1a1a1a"/>
<line x1="90" y1="445.8" x2="197.6" y2="445.8" stroke="#1a1a1a" stroke-width="1.7"/>
<text x="95.3" y="442" font-family="Liberation Mono" font-size="13" text-anchor="start" fill="#1a1a1a">RES</text>
<line x1="90" y1="461.2" x2="197.6" y2="461.2" stroke="#1a1a1a" stroke-width="1.7"/>
<text x="95.3" y="457.5" font-family="Liberation Mono" font-size="13" text-anchor="start" fill="#1a1a1a">RXD</text>
<line x1="90" y1="476.5" x2="197.6" y2="476.5" stroke="#1a1a1a" stroke-width="1.7"/>
<text x="96.5" y="473" font-family="Liberation Mono" font-size="13" text-anchor="start" fill="#1a1a1a">TXD</text>
<polyline fill="none" stroke="#1a1a1a" stroke-width="1.7" points="197.6,491.7 175,491.7 175,523.1"/>
<circle cx="175" cy="523.1" r="2.7" fill="#1a1a1a"/>
<line x1="90" y1="507.9" x2="197.6" y2="507.9" stroke="#1a1a1a" stroke-width="1.7"/>
<text x="92.7" y="504" font-family="Liberation Mono" font-size="13" text-anchor="start" fill="#1a1a1a">INT1</text>
<line x1="90" y1="523.1" x2="197.6" y2="523.1" stroke="#1a1a1a" stroke-width="1.7"/>
<text x="100.4" y="519" font-family="Liberation Mono" font-size="13" text-anchor="start" fill="#1a1a1a">T0</text>
<text x="115.6" y="581" font-family="Liberation Mono" font-size="13" text-anchor="start" fill="#1a1a1a">110592</text>
<polyline fill="none" stroke="#1a1a1a" stroke-width="1.7" points="197.6,585 121.7,585 121.7,670 183,670 183,615.8 197.6,615.8"/>
<polyline fill="none" stroke="#1a1a1a" stroke-width="1.7" points="197.6,600.3 160.5,600.3 160.5,670"/>
<circle cx="121.7" cy="631.3" r="2.7" fill="#1a1a1a"/>
<circle cx="160.5" cy="631.3" r="2.7" fill="#1a1a1a"/>
<circle cx="160.5" cy="670" r="2.7" fill="#1a1a1a"/>
<line x1="121.7" y1="631.3" x2="134" y2="631.3" stroke="#1a1a1a" stroke-width="1.7"/>
<line x1="148.3" y1="631.3" x2="160.5" y2="631.3" stroke="#1a1a1a" stroke-width="1.7"/>
<line x1="134" y1="624" x2="134" y2="638" stroke="#1a1a1a" stroke-width="2.2"/>
<line x1="148.3" y1="624" x2="148.3" y2="638" stroke="#1a1a1a" stroke-width="2.2"/>
<rect x="136.7" y="624" width="9.1" height="14" fill="#fff" stroke="#1a1a1a" stroke-width="1.7"/>
<rect x="113.7" y="651.5" width="16" height="5" fill="#fff"/>
<line x1="113.7" y1="652.5" x2="129.7" y2="652.5" stroke="#1a1a1a" stroke-width="2.2"/>
<line x1="113.7" y1="656" x2="129.7" y2="656" stroke="#1a1a1a" stroke-width="2.2"/>
<rect x="152.5" y="651.5" width="16" height="5" fill="#fff"/>
<line x1="152.5" y1="652.5" x2="168.5" y2="652.5" stroke="#1a1a1a" stroke-width="2.2"/>
<line x1="152.5" y1="656" x2="168.5" y2="656" stroke="#1a1a1a" stroke-width="2.2"/>
<text x="107.5" y="654" font-family="Liberation Mono" font-size="12" text-anchor="middle" dominant-baseline="central" transform="rotate(-90 107.5 654)" fill="#1a1a1a">C1</text>
<text x="145" y="654" font-family="Liberation Mono" font-size="12" text-anchor="middle" dominant-baseline="central" transform="rotate(-90 145 654)" fill="#1a1a1a">C2</text>
<line x1="160.5" y1="670" x2="160.5" y2="689.7" stroke="#1a1a1a" stroke-width="1.7"/>
<line x1="151.5" y1="689.7" x2="169.5" y2="689.7" stroke="#1a1a1a" stroke-width="3.2"/>
<rect x="6.7" y="706.0" width="108.6" height="154.0" fill="none" stroke="#1a1a1a" stroke-width="1.7"/>
<line x1="83" y1="706.0" x2="83" y2="860.0" stroke="#1a1a1a" stroke-width="1.7"/>
<line x1="6.7" y1="721.4" x2="115.3" y2="721.4" stroke="#1a1a1a" stroke-width="1.7"/>
<line x1="6.7" y1="736.8" x2="115.3" y2="736.8" stroke="#1a1a1a" stroke-width="1.7"/>
<line x1="6.7" y1="752.2" x2="115.3" y2="752.2" stroke="#1a1a1a" stroke-width="1.7"/>
<line x1="6.7" y1="767.6" x2="115.3" y2="767.6" stroke="#1a1a1a" stroke-width="1.7"/>
<line x1="6.7" y1="783.0" x2="115.3" y2="783.0" stroke="#1a1a1a" stroke-width="1.7"/>
<line x1="6.7" y1="798.4" x2="115.3" y2="798.4" stroke="#1a1a1a" stroke-width="1.7"/>
<line x1="6.7" y1="813.8" x2="115.3" y2="813.8" stroke="#1a1a1a" stroke-width="1.7"/>
<line x1="6.7" y1="829.2" x2="115.3" y2="829.2" stroke="#1a1a1a" stroke-width="1.7"/>
<line x1="6.7" y1="844.6" x2="115.3" y2="844.6" stroke="#1a1a1a" stroke-width="1.7"/>
<text x="30.9" y="718.6" font-family="Liberation Mono" font-size="14.5" text-anchor="start" textLength="36.2" lengthAdjust="spacingAndGlyphs" fill="#1a1a1a">CERX</text>
<text x="98.5" y="717.98" font-family="Liberation Mono" font-size="13" text-anchor="middle" fill="#1a1a1a">CON</text>
<text x="66" y="733.38" font-family="Liberation Mono" font-size="13" text-anchor="end" fill="#1a1a1a">DCD</text>
<text x="100.5" y="733.38" font-family="Liberation Mono" font-size="13" text-anchor="middle" fill="#1a1a1a">1</text>
<line x1="115.3" y1="729.0999999999999" x2="119" y2="729.0999999999999" stroke="#1a1a1a" stroke-width="1.7"/>
<line x1="119.1" y1="725.5999999999999" x2="126.1" y2="732.5999999999999" stroke="#1a1a1a" stroke-width="1.7"/>
<line x1="119.1" y1="732.5999999999999" x2="126.1" y2="725.5999999999999" stroke="#1a1a1a" stroke-width="1.7"/>
<text x="66" y="748.78" font-family="Liberation Mono" font-size="13" text-anchor="end" fill="#1a1a1a">RXD</text>
<text x="100.5" y="748.78" font-family="Liberation Mono" font-size="13" text-anchor="middle" fill="#1a1a1a">2</text>
<text x="66" y="764.18" font-family="Liberation Mono" font-size="13" text-anchor="end" fill="#1a1a1a">TXD</text>
<text x="100.5" y="764.18" font-family="Liberation Mono" font-size="13" text-anchor="middle" fill="#1a1a1a">3</text>
<text x="66" y="779.58" font-family="Liberation Mono" font-size="13" text-anchor="end" fill="#1a1a1a">DTR</text>
<text x="100.5" y="779.58" font-family="Liberation Mono" font-size="13" text-anchor="middle" fill="#1a1a1a">4</text>
<line x1="115.3" y1="775.3" x2="119" y2="775.3" stroke="#1a1a1a" stroke-width="1.7"/>
<line x1="119.1" y1="771.8" x2="126.1" y2="778.8" stroke="#1a1a1a" stroke-width="1.7"/>
<line x1="119.1" y1="778.8" x2="126.1" y2="771.8" stroke="#1a1a1a" stroke-width="1.7"/>
<text x="66" y="794.98" font-family="Liberation Mono" font-size="13" text-anchor="end" fill="#1a1a1a">GND</text>
<text x="100.5" y="794.98" font-family="Liberation Mono" font-size="13" text-anchor="middle" fill="#1a1a1a">5</text>
<text x="66" y="810.38" font-family="Liberation Mono" font-size="13" text-anchor="end" fill="#1a1a1a">DSR</text>
<text x="100.5" y="810.38" font-family="Liberation Mono" font-size="13" text-anchor="middle" fill="#1a1a1a">6</text>
<line x1="115.3" y1="806.0999999999999" x2="119" y2="806.0999999999999" stroke="#1a1a1a" stroke-width="1.7"/>
<line x1="119.1" y1="802.5999999999999" x2="126.1" y2="809.5999999999999" stroke="#1a1a1a" stroke-width="1.7"/>
<line x1="119.1" y1="809.5999999999999" x2="126.1" y2="802.5999999999999" stroke="#1a1a1a" stroke-width="1.7"/>
<text x="66" y="825.78" font-family="Liberation Mono" font-size="13" text-anchor="end" fill="#1a1a1a">RTS</text>
<text x="100.5" y="825.78" font-family="Liberation Mono" font-size="13" text-anchor="middle" fill="#1a1a1a">7</text>
<text x="66" y="841.18" font-family="Liberation Mono" font-size="13" text-anchor="end" fill="#1a1a1a">CTS</text>
<text x="100.5" y="841.18" font-family="Liberation Mono" font-size="13" text-anchor="middle" fill="#1a1a1a">8</text>
<text x="66" y="856.58" font-family="Liberation Mono" font-size="13" text-anchor="end" fill="#1a1a1a">RI</text>
<text x="100.5" y="856.58" font-family="Liberation Mono" font-size="13" text-anchor="middle" fill="#1a1a1a">9</text>
<line x1="115.3" y1="852.3" x2="119" y2="852.3" stroke="#1a1a1a" stroke-width="1.7"/>
<line x1="119.1" y1="848.8" x2="126.1" y2="855.8" stroke="#1a1a1a" stroke-width="1.7"/>
<line x1="119.1" y1="855.8" x2="126.1" y2="848.8" stroke="#1a1a1a" stroke-width="1.7"/>
<text x="52" y="878.5" font-family="Liberation Sans" font-size="15" text-anchor="middle" fill="#1a1a1a">IBM</text>
<polyline fill="none" stroke="#1a1a1a" stroke-width="1.7" points="115.3,745 138,745 138,729.7 253,729.7"/>
<line x1="115.3" y1="760.3" x2="253" y2="760.3" stroke="#1a1a1a" stroke-width="1.7"/>
<polyline fill="none" stroke="#1a1a1a" stroke-width="1.7" points="115.3,791.4 138,791.4 138,860 253,860"/>
<polyline fill="none" stroke="#1a1a1a" stroke-width="1.7" points="115.3,821.4 153.4,821.4 153.4,775.8 253,775.8"/>
<polyline fill="none" stroke="#1a1a1a" stroke-width="1.7" points="115.3,837 169,837 169,745 253,745"/>
<line x1="191" y1="806" x2="253" y2="806" stroke="#1a1a1a" stroke-width="1.7"/>
<line x1="191" y1="806" x2="191" y2="834.5" stroke="#1a1a1a" stroke-width="1.7"/>
<line x1="191" y1="838" x2="191" y2="860" stroke="#1a1a1a" stroke-width="1.7"/>
<line x1="183.5" y1="834.5" x2="198.5" y2="834.5" stroke="#1a1a1a" stroke-width="2.2"/>
<line x1="183.5" y1="838.5" x2="198.5" y2="838.5" stroke="#1a1a1a" stroke-width="2.2"/>
<text x="183" y="829" font-family="Liberation Mono" font-size="12" text-anchor="middle" fill="#1a1a1a">+</text>
<line x1="221.6" y1="821.6" x2="253" y2="821.6" stroke="#1a1a1a" stroke-width="1.7"/>
<line x1="221.6" y1="821.6" x2="221.6" y2="836" stroke="#1a1a1a" stroke-width="1.7"/>
<line x1="221.6" y1="840" x2="221.6" y2="875" stroke="#1a1a1a" stroke-width="1.7"/>
<line x1="214" y1="836" x2="229" y2="836" stroke="#1a1a1a" stroke-width="2.2"/>
<line x1="214" y1="840" x2="229" y2="840" stroke="#1a1a1a" stroke-width="2.2"/>
<text x="229.5" y="851" font-family="Liberation Mono" font-size="12" text-anchor="middle" fill="#1a1a1a">+</text>
<circle cx="191" cy="860" r="2.7" fill="#1a1a1a"/>
<circle cx="221.6" cy="860" r="2.7" fill="#1a1a1a"/>
<line x1="213.5" y1="875" x2="231" y2="875" stroke="#1a1a1a" stroke-width="3.2"/>
<rect x="252.8" y="706" width="92.4" height="169.2" fill="none" stroke="#1a1a1a" stroke-width="1.7"/>
<line x1="283.5" y1="706" x2="283.5" y2="875.2" stroke="#1a1a1a" stroke-width="1.7"/>
<line x1="314.2" y1="706" x2="314.2" y2="875.2" stroke="#1a1a1a" stroke-width="1.7"/>
<line x1="252.8" y1="721.2" x2="283.5" y2="721.2" stroke="#1a1a1a" stroke-width="1.7"/>
<line x1="314.2" y1="721.2" x2="345.2" y2="721.2" stroke="#1a1a1a" stroke-width="1.7"/>
<line x1="252.8" y1="752.3" x2="283.5" y2="752.3" stroke="#1a1a1a" stroke-width="1.7"/>
<line x1="314.2" y1="752.3" x2="345.2" y2="752.3" stroke="#1a1a1a" stroke-width="1.7"/>
<line x1="252.8" y1="783" x2="283.5" y2="783" stroke="#1a1a1a" stroke-width="1.7"/>
<line x1="314.2" y1="783" x2="345.2" y2="783" stroke="#1a1a1a" stroke-width="1.7"/>
<text x="300" y="703" font-family="Liberation Mono" font-size="13" text-anchor="middle" fill="#1a1a1a">IC5</text>
<text x="268.15" y="717.88" font-family="Liberation Mono" font-size="13" text-anchor="middle" fill="#1a1a1a">RS</text>
<text x="329.7" y="717.88" font-family="Liberation Mono" font-size="13" text-anchor="middle" fill="#1a1a1a">TTL</text>
<text x="253.3" y="734.22" font-family="Liberation Mono" font-size="12.5" text-anchor="start" letter-spacing="-0.6" fill="#1a1a1a">T1OU</text>
<text x="251.8" y="726.6" font-family="Liberation Mono" font-size="13" text-anchor="end" fill="#1a1a1a">14</text>
<text x="253.3" y="749.12" font-family="Liberation Mono" font-size="12.5" text-anchor="start" letter-spacing="-0.6" fill="#1a1a1a">T2OU</text>
<text x="251.8" y="741.5" font-family="Liberation Mono" font-size="13" text-anchor="end" fill="#1a1a1a">7</text>
<text x="253.3" y="764.32" font-family="Liberation Mono" font-size="12.5" text-anchor="start" letter-spacing="-0.6" fill="#1a1a1a">R1IN</text>
<text x="251.8" y="756.7" font-family="Liberation Mono" font-size="13" text-anchor="end" fill="#1a1a1a">13</text>
<text x="253.3" y="780.32" font-family="Liberation Mono" font-size="12.5" text-anchor="start" letter-spacing="-0.6" fill="#1a1a1a">R2IN</text>
<text x="251.8" y="772.7" font-family="Liberation Mono" font-size="13" text-anchor="end" fill="#1a1a1a">8</text>
<text x="314.7" y="734.22" font-family="Liberation Mono" font-size="12.5" text-anchor="start" letter-spacing="-0.6" fill="#1a1a1a">T1IN</text>
<text x="347.2" y="726.6" font-family="Liberation Mono" font-size="13" text-anchor="start" fill="#1a1a1a">11</text>
<text x="314.7" y="749.12" font-family="Liberation Mono" font-size="12.5" text-anchor="start" letter-spacing="-0.6" fill="#1a1a1a">T2IN</text>
<text x="347.2" y="741.5" font-family="Liberation Mono" font-size="13" text-anchor="start" fill="#1a1a1a">10</text>
<text x="314.7" y="764.32" font-family="Liberation Mono" font-size="12.5" text-anchor="start" letter-spacing="-0.6" fill="#1a1a1a">R1OU</text>
<text x="347.2" y="756.7" font-family="Liberation Mono" font-size="13" text-anchor="start" fill="#1a1a1a">12</text>
<text x="314.7" y="780.32" font-family="Liberation Mono" font-size="12.5" text-anchor="start" letter-spacing="-0.6" fill="#1a1a1a">R2OU</text>
<text x="347.2" y="772.7" font-family="Liberation Mono" font-size="13" text-anchor="start" fill="#1a1a1a">9</text>
<text x="268.15" y="795.28" font-family="Liberation Mono" font-size="13" text-anchor="middle" fill="#1a1a1a">5V</text>
<text x="253.8" y="810.62" font-family="Liberation Mono" font-size="12.5" text-anchor="start" letter-spacing="-0.6" fill="#1a1a1a">+10U</text>
<text x="253.8" y="826.12" font-family="Liberation Mono" font-size="12.5" text-anchor="start" letter-spacing="-0.6" fill="#1a1a1a">-10U</text>
<text x="269.15" y="864.78" font-family="Liberation Mono" font-size="13" text-anchor="middle" fill="#1a1a1a">GND</text>
<text x="251.8" y="802" font-family="Liberation Mono" font-size="13" text-anchor="end" fill="#1a1a1a">2</text>
<text x="251.8" y="818" font-family="Liberation Mono" font-size="13" text-anchor="end" fill="#1a1a1a">6</text>
<text x="251.8" y="858" font-family="Liberation Mono" font-size="13" text-anchor="end" fill="#1a1a1a">15</text>
<text x="247" y="784" font-family="Liberation Mono" font-size="12" text-anchor="middle" dominant-baseline="central" transform="rotate(90 247 784)" fill="#1a1a1a">16</text>
<line x1="243.3" y1="789.5" x2="249.7" y2="795.5" stroke="#1a1a1a" stroke-width="1.4"/>
<line x1="243.3" y1="795.5" x2="249.7" y2="789.5" stroke="#1a1a1a" stroke-width="1.4"/>
<text x="298.8" y="790" font-family="Liberation Mono" font-size="13" text-anchor="middle" dominant-baseline="central" transform="rotate(-90 298.8 790)" fill="#1a1a1a">MAX232</text>
<text x="317.2" y="796.28" font-family="Liberation Mono" font-size="13" text-anchor="start" fill="#1a1a1a">C1+</text>
<text x="317.2" y="826.78" font-family="Liberation Mono" font-size="13" text-anchor="start" fill="#1a1a1a">C1-</text>
<text x="317.2" y="841.68" font-family="Liberation Mono" font-size="13" text-anchor="start" fill="#1a1a1a">C2+</text>
<text x="317.2" y="872.28" font-family="Liberation Mono" font-size="13" text-anchor="start" fill="#1a1a1a">C2-</text>
<text x="349.2" y="787" font-family="Liberation Mono" font-size="13" text-anchor="start" fill="#1a1a1a">1</text>
<text x="349.2" y="817" font-family="Liberation Mono" font-size="13" text-anchor="start" fill="#1a1a1a">3</text>
<text x="349.2" y="832" font-family="Liberation Mono" font-size="13" text-anchor="start" fill="#1a1a1a">4</text>
<text x="349.2" y="864" font-family="Liberation Mono" font-size="13" text-anchor="start" fill="#1a1a1a">5</text>
<line x1="345.2" y1="729.6" x2="415" y2="729.6" stroke="#1a1a1a" stroke-width="1.7"/>
<text x="413" y="726" font-family="Liberation Mono" font-size="13" text-anchor="end" fill="#1a1a1a">TXD</text>
<line x1="345.2" y1="744.5" x2="415" y2="744.5" stroke="#1a1a1a" stroke-width="1.7"/>
<text x="413" y="741" font-family="Liberation Mono" font-size="13" text-anchor="end" fill="#1a1a1a">INT1</text>
<circle cx="368.8" cy="744.5" r="2.7" fill="#1a1a1a"/>
<line x1="345.2" y1="760" x2="415" y2="760" stroke="#1a1a1a" stroke-width="1.7"/>
<text x="413" y="756.5" font-family="Liberation Mono" font-size="13" text-anchor="end" fill="#1a1a1a">RXD</text>
<polyline fill="none" stroke="#1a1a1a" stroke-width="1.7" points="345.2,775.7 368.8,775.7 368.8,744.5"/>
<polyline fill="none" stroke="#1a1a1a" stroke-width="1.7" points="345.2,792 375.9,792 375.9,803.5"/>
<polyline fill="none" stroke="#1a1a1a" stroke-width="1.7" points="375.9,807.5 375.9,822.5 345.2,822.5"/>
<line x1="368" y1="803.5" x2="384" y2="803.5" stroke="#1a1a1a" stroke-width="2.2"/>
<line x1="368" y1="807.5" x2="384" y2="807.5" stroke="#1a1a1a" stroke-width="2.2"/>
<text x="368" y="799.5" font-family="Liberation Mono" font-size="12" text-anchor="middle" fill="#1a1a1a">+</text>
<polyline fill="none" stroke="#1a1a1a" stroke-width="1.7" points="345.2,837.4 375.9,837.4 375.9,849"/>
<polyline fill="none" stroke="#1a1a1a" stroke-width="1.7" points="375.9,853.6 375.9,868 345.2,868"/>
<line x1="368" y1="849" x2="384" y2="849" stroke="#1a1a1a" stroke-width="2.2"/>
<line x1="368" y1="853.6" x2="384" y2="853.6" stroke="#1a1a1a" stroke-width="2.2"/>
<text x="368" y="845" font-family="Liberation Mono" font-size="12" text-anchor="middle" fill="#1a1a1a">+</text>
<text x="117" y="909.2" font-family="Liberation Sans" font-size="17.5" text-anchor="start" font-style="italic" textLength="221" lengthAdjust="spacingAndGlyphs" style="stroke-width:0.7px" fill="#1a1a1a">Преобразователь уровня</text>
<text x="133" y="931" font-family="Liberation Sans" font-size="17.5" text-anchor="start" font-style="italic" textLength="188" lengthAdjust="spacingAndGlyphs" style="stroke-width:0.7px" fill="#1a1a1a">для сопряжения с PC</text>
<text x="472.7" y="48.8" font-family="Liberation Mono" font-size="13.4" text-anchor="start" style="stroke-width:0.25px" fill="#1a1a1a">BMW 5.2</text>
<text x="453.5" y="70.7" font-family="Liberation Mono" font-size="13.4" text-anchor="start" style="stroke-width:0.25px" fill="#1a1a1a">IC1 - CA3046</text>
<text x="453.5" y="86.15" font-family="Liberation Mono" font-size="13.4" text-anchor="start" style="stroke-width:0.25px" fill="#1a1a1a">IC2 - CA3046</text>
<text x="453.5" y="101.6" font-family="Liberation Mono" font-size="13.4" text-anchor="start" style="stroke-width:0.25px" fill="#1a1a1a">IC3 - CA3046</text>
<text x="453.5" y="117.05" font-family="Liberation Mono" font-size="13.4" text-anchor="start" style="stroke-width:0.25px" fill="#1a1a1a">IC4 - LM7805</text>
<text x="453.5" y="132.5" font-family="Liberation Mono" font-size="13.4" text-anchor="start" style="stroke-width:0.25px" fill="#1a1a1a">IC5 - MAX232</text>
<text x="453.5" y="147.95" font-family="Liberation Mono" font-size="13.4" text-anchor="start" style="stroke-width:0.25px" fill="#1a1a1a">IC3 - TEMIC TS87C51-16CB</text>
<polyline fill="none" stroke="#1a1a1a" stroke-width="1.7" points="467.7,190 652.6,190 652.6,220.6"/>
<line x1="467.7" y1="190" x2="467.7" y2="190" stroke="#1a1a1a" stroke-width="1.7"/>
<polyline fill="none" stroke="#1a1a1a" stroke-width="1.7" points="475.92,193.67 467.7,190 475.92,186.33"/>
<text x="445.6" y="194.3" font-family="Liberation Mono" font-size="13" text-anchor="start" fill="#1a1a1a">+U</text>
<line x1="467.7" y1="221" x2="575.4" y2="221" stroke="#1a1a1a" stroke-width="1.7"/>
<line x1="467.7" y1="221" x2="467.7" y2="221" stroke="#1a1a1a" stroke-width="1.7"/>
<polyline fill="none" stroke="#1a1a1a" stroke-width="1.7" points="475.92,224.67 467.7,221 475.92,217.33"/>
<text x="445.6" y="225.3" font-family="Liberation Mono" font-size="13" text-anchor="start" fill="#1a1a1a">5V</text>
<line x1="467.7" y1="267" x2="544.6" y2="267" stroke="#1a1a1a" stroke-width="1.7"/>
<line x1="467.7" y1="267" x2="467.7" y2="267" stroke="#1a1a1a" stroke-width="1.7"/>
<polyline fill="none" stroke="#1a1a1a" stroke-width="1.7" points="475.92,270.67 467.7,267 475.92,263.33"/>
<text x="441" y="271.3" font-family="Liberation Mono" font-size="13" text-anchor="start" fill="#1a1a1a">RES</text>
<polyline fill="none" stroke="#1a1a1a" stroke-width="1.7" points="467.7,328.6 606.8,328.6 606.8,235.6"/>
<line x1="467.7" y1="328.6" x2="467.7" y2="328.6" stroke="#1a1a1a" stroke-width="1.7"/>
<polyline fill="none" stroke="#1a1a1a" stroke-width="1.7" points="475.92,332.27 467.7,328.6 475.92,324.93"/>
<text x="441" y="332.90000000000003" font-family="Liberation Mono" font-size="13" text-anchor="start" fill="#1a1a1a">GND</text>
<circle cx="498.4" cy="221" r="2.7" fill="#1a1a1a"/>
<circle cx="544.6" cy="221" r="2.7" fill="#1a1a1a"/>
<circle cx="498.4" cy="328.6" r="2.7" fill="#1a1a1a"/>
<circle cx="544.6" cy="328.6" r="2.7" fill="#1a1a1a"/>
<circle cx="544.6" cy="267" r="2.7" fill="#1a1a1a"/>
<circle cx="652.6" cy="220.6" r="2.7" fill="#1a1a1a"/>
<rect x="575.4" y="205.3" width="61.9" height="30.3" fill="#fff" stroke="#1a1a1a" stroke-width="1.7"/>
<text x="607.4" y="202" font-family="Liberation Mono" font-size="13" text-anchor="middle" fill="#1a1a1a">IC4</text>
<text x="607.4" y="215.28" font-family="Liberation Mono" font-size="13" text-anchor="middle" fill="#1a1a1a">STU</text>
<text x="606.6" y="226.78" font-family="Liberation Mono" font-size="13" text-anchor="middle" fill="#1a1a1a">LM7805</text>
<line x1="637.3" y1="220.8" x2="997.6" y2="220.9" stroke="#1a1a1a" stroke-width="1.7"/>
<line x1="544.6" y1="221" x2="544.6" y2="248" stroke="#1a1a1a" stroke-width="1.7"/>
<line x1="544.6" y1="252" x2="544.6" y2="282.2" stroke="#1a1a1a" stroke-width="1.7"/>
<line x1="537" y1="248" x2="552" y2="248" stroke="#1a1a1a" stroke-width="2.2"/>
<line x1="537" y1="252" x2="552" y2="252" stroke="#1a1a1a" stroke-width="2.2"/>
<text x="536.6" y="243.5" font-family="Liberation Mono" font-size="12" text-anchor="middle" fill="#1a1a1a">+</text>
<text x="560.8" y="250" font-family="Liberation Mono" font-size="13" text-anchor="middle" dominant-baseline="central" transform="rotate(-90 560.8 250)" fill="#1a1a1a">C10</text>
<rect x="538.35" y="282.2" width="12.5" height="31.2" fill="#fff" stroke="#1a1a1a" stroke-width="1.7"/>
<text x="544.6" y="297.79999999999995" font-family="Liberation Mono" font-size="13" text-anchor="middle" dominant-baseline="central" transform="rotate(-90 544.6 297.79999999999995)" fill="#1a1a1a">R17</text>
<line x1="544.6" y1="313.4" x2="544.6" y2="328.6" stroke="#1a1a1a" stroke-width="1.7"/>
<line x1="544.6" y1="328.6" x2="544.6" y2="343.3" stroke="#1a1a1a" stroke-width="1.7"/>
<line x1="535.6" y1="343.3" x2="553.6" y2="343.3" stroke="#1a1a1a" stroke-width="3.2"/>
<line x1="498.4" y1="221" x2="498.4" y2="295.2" stroke="#1a1a1a" stroke-width="1.7"/>
<line x1="498.4" y1="299" x2="498.4" y2="328.6" stroke="#1a1a1a" stroke-width="1.7"/>
<line x1="490.5" y1="295.2" x2="506.5" y2="295.2" stroke="#1a1a1a" stroke-width="2.2"/>
<line x1="490.5" y1="299" x2="506.5" y2="299" stroke="#1a1a1a" stroke-width="2.2"/>
<text x="489.8" y="291" font-family="Liberation Mono" font-size="12" text-anchor="middle" fill="#1a1a1a">+</text>
<text x="514.3" y="296.8" font-family="Liberation Mono" font-size="13" text-anchor="middle" dominant-baseline="central" transform="rotate(-90 514.3 296.8)" fill="#1a1a1a">C9</text>
<line x1="428.9" y1="367.2" x2="475.5" y2="367.2" stroke="#1a1a1a" stroke-width="1.7"/>
<rect x="475.5" y="361.5" width="31.0" height="12.0" fill="#fff" stroke="#1a1a1a" stroke-width="1.7"/>
<text x="491.0" y="367.5" font-family="Liberation Mono" font-size="13" text-anchor="middle" dominant-baseline="central" fill="#1a1a1a">R2</text>
<polyline fill="none" stroke="#1a1a1a" stroke-width="1.7" points="506.5,367.2 591.3,367.2 591.3,444.6"/>
<text x="431.5" y="364.0" font-family="Liberation Mono" font-size="13" text-anchor="start" fill="#1a1a1a">INT1</text>
<line x1="428.9" y1="398.6" x2="722.7" y2="398.9" stroke="#1a1a1a" stroke-width="1.7"/>
<text x="430.6" y="395.40000000000003" font-family="Liberation Mono" font-size="13" text-anchor="start" fill="#1a1a1a">P0.1</text>
<circle cx="560.3" cy="398.6" r="2.7" fill="#1a1a1a"/>
<circle cx="629.9" cy="398.6" r="2.7" fill="#1a1a1a"/>
<circle cx="669" cy="398.9" r="2.7" fill="#1a1a1a"/>
<line x1="428.9" y1="429.2" x2="475.5" y2="429.2" stroke="#1a1a1a" stroke-width="1.7"/>
<rect x="475.5" y="423.4" width="31.0" height="12.0" fill="#fff" stroke="#1a1a1a" stroke-width="1.7"/>
<text x="491.0" y="429.4" font-family="Liberation Mono" font-size="13" text-anchor="middle" dominant-baseline="central" fill="#1a1a1a">R8</text>
<line x1="506.5" y1="429.2" x2="545.1" y2="429.2" stroke="#1a1a1a" stroke-width="1.7"/>
<text x="434.3" y="426.0" font-family="Liberation Mono" font-size="13" text-anchor="start" fill="#1a1a1a">RXD</text>
<circle cx="522.2" cy="429.2" r="2.7" fill="#1a1a1a"/>
<line x1="522.2" y1="429.2" x2="522.2" y2="444.6" stroke="#1a1a1a" stroke-width="1.7"/>
<rect x="515.95" y="444.6" width="12.5" height="31.2" fill="#fff" stroke="#1a1a1a" stroke-width="1.7"/>
<text x="522.2" y="460.20000000000005" font-family="Liberation Mono" font-size="13" text-anchor="middle" dominant-baseline="central" transform="rotate(-90 522.2 460.20000000000005)" fill="#1a1a1a">R9</text>
<line x1="522.2" y1="475.8" x2="522.2" y2="491.3" stroke="#1a1a1a" stroke-width="1.7"/>
<line x1="545.1" y1="415" x2="545.1" y2="443.6" stroke="#1a1a1a" stroke-width="2"/>
<line x1="545.1" y1="420.8" x2="560.3" y2="413.9" stroke="#1a1a1a" stroke-width="1.7"/>
<line x1="545.1" y1="437.3" x2="560.3" y2="444.6" stroke="#1a1a1a" stroke-width="1.7"/>
<polyline fill="none" stroke="#1a1a1a" stroke-width="1.7" points="556.1,439.64 560.3,444.6 553.8,444.42"/>
<line x1="560.3" y1="413.9" x2="560.3" y2="398.6" stroke="#1a1a1a" stroke-width="1.7"/>
<line x1="560.3" y1="444.6" x2="560.3" y2="491.3" stroke="#1a1a1a" stroke-width="1.7"/>
<text x="538.5" y="426.45" font-family="Liberation Mono" font-size="12" text-anchor="middle" fill="#1a1a1a">4</text>
<text x="569.5" y="419.45" font-family="Liberation Mono" font-size="12" text-anchor="middle" fill="#1a1a1a">5</text>
<text x="562.5" y="434.45" font-family="Liberation Mono" font-size="12" text-anchor="middle" fill="#1a1a1a">IC2</text>
<text x="569.5" y="449.95" font-family="Liberation Mono" font-size="12" text-anchor="middle" fill="#1a1a1a">3</text>
<text x="631" y="333.5" font-family="Liberation Mono" font-size="13" text-anchor="start" fill="#1a1a1a">5V</text>
<polyline fill="none" stroke="#1a1a1a" stroke-width="1.7" points="644.7,337 629.9,337 629.9,352.4"/>
<rect x="623.65" y="352.4" width="12.5" height="30.7" fill="#fff" stroke="#1a1a1a" stroke-width="1.7"/>
<text x="629.9" y="367.75" font-family="Liberation Mono" font-size="13" text-anchor="middle" dominant-baseline="central" transform="rotate(-90 629.9 367.75)" fill="#1a1a1a">R26</text>
<line x1="629.9" y1="383.1" x2="629.9" y2="398.6" stroke="#1a1a1a" stroke-width="1.7"/>
<circle cx="591.3" cy="429.8" r="2.7" fill="#1a1a1a"/>
<line x1="591.3" y1="429.8" x2="614" y2="429.8" stroke="#1a1a1a" stroke-width="1.7"/>
<rect x="585.05" y="444.6" width="12.5" height="31.2" fill="#fff" stroke="#1a1a1a" stroke-width="1.7"/>
<text x="591.3" y="460.20000000000005" font-family="Liberation Mono" font-size="13" text-anchor="middle" dominant-baseline="central" transform="rotate(-90 591.3 460.20000000000005)" fill="#1a1a1a">R4</text>
<line x1="591.3" y1="475.8" x2="591.3" y2="491.3" stroke="#1a1a1a" stroke-width="1.7"/>
<line x1="591.3" y1="491.3" x2="591.3" y2="506" stroke="#1a1a1a" stroke-width="1.7"/>
<line x1="582.3" y1="506" x2="600.3" y2="506" stroke="#1a1a1a" stroke-width="3.2"/>
<line x1="614" y1="415" x2="614" y2="443.6" stroke="#1a1a1a" stroke-width="2"/>
<line x1="614" y1="420.8" x2="629.9" y2="413.9" stroke="#1a1a1a" stroke-width="1.7"/>
<line x1="614" y1="437.3" x2="629.9" y2="444.6" stroke="#1a1a1a" stroke-width="1.7"/>
<polyline fill="none" stroke="#1a1a1a" stroke-width="1.7" points="625.61,439.71 629.9,444.6 623.4,444.53"/>
<line x1="629.9" y1="413.9" x2="629.9" y2="398.6" stroke="#1a1a1a" stroke-width="1.7"/>
<line x1="629.9" y1="444.6" x2="629.9" y2="491.3" stroke="#1a1a1a" stroke-width="1.7"/>
<text x="606" y="426.45" font-family="Liberation Mono" font-size="12" text-anchor="middle" fill="#1a1a1a">12</text>
<text x="640" y="419.45" font-family="Liberation Mono" font-size="12" text-anchor="middle" fill="#1a1a1a">14</text>
<text x="629" y="434.45" font-family="Liberation Mono" font-size="12" text-anchor="middle" fill="#1a1a1a">IC3</text>
<text x="640" y="449.95" font-family="Liberation Mono" font-size="12" text-anchor="middle" fill="#1a1a1a">13</text>
<line x1="522.2" y1="491.3" x2="916" y2="492.3" stroke="#1a1a1a" stroke-width="1.7"/>
<circle cx="560.3" cy="491.8" r="2.7" fill="#1a1a1a"/>
<circle cx="591.3" cy="491.8" r="2.7" fill="#1a1a1a"/>
<circle cx="629.9" cy="491.8" r="2.7" fill="#1a1a1a"/>
<circle cx="738.3" cy="491.8" r="2.7" fill="#1a1a1a"/>
<circle cx="769.5" cy="491.8" r="2.7" fill="#1a1a1a"/>
<circle cx="808" cy="491.8" r="2.7" fill="#1a1a1a"/>
<circle cx="870.7" cy="491.8" r="2.7" fill="#1a1a1a"/>
<polyline fill="none" stroke="#1a1a1a" stroke-width="1.7" points="669,398.9 669,831.1 684.5,831.1"/>
<circle cx="669" cy="630.5" r="2.7" fill="#1a1a1a"/>
<text x="740.7" y="303.2" font-family="Liberation Mono" font-size="13" text-anchor="start" fill="#1a1a1a">+U</text>
<polyline fill="none" stroke="#1a1a1a" stroke-width="1.7" points="754.9,306.3 738.3,306.3 738.3,321.5"/>
<rect x="732.05" y="321.5" width="12.5" height="31.2" fill="#fff" stroke="#1a1a1a" stroke-width="1.7"/>
<text x="738.3" y="337.1" font-family="Liberation Mono" font-size="13" text-anchor="middle" dominant-baseline="central" transform="rotate(-90 738.3 337.1)" fill="#1a1a1a">R31</text>
<line x1="738.3" y1="352.7" x2="738.3" y2="368.3" stroke="#1a1a1a" stroke-width="1.7"/>
<line x1="738.3" y1="368.3" x2="916" y2="368.5" stroke="#1a1a1a" stroke-width="1.7"/>
<circle cx="738.3" cy="368.3" r="2.7" fill="#1a1a1a"/>
<circle cx="769.5" cy="368.3" r="2.7" fill="#1a1a1a"/>
<line x1="722.7" y1="384.9" x2="722.7" y2="413" stroke="#1a1a1a" stroke-width="2"/>
<line x1="722.7" y1="390.45" x2="738.3" y2="382.4" stroke="#1a1a1a" stroke-width="1.7"/>
<line x1="722.7" y1="406.95" x2="738.3" y2="413.7" stroke="#1a1a1a" stroke-width="1.7"/>
<polyline fill="none" stroke="#1a1a1a" stroke-width="1.7" points="733.91,408.91 738.3,413.7 731.8,413.78"/>
<line x1="738.3" y1="382.4" x2="738.3" y2="368.3" stroke="#1a1a1a" stroke-width="1.7"/>
<line x1="738.3" y1="413.7" x2="738.3" y2="491.8" stroke="#1a1a1a" stroke-width="1.7"/>
<text x="715.9" y="395.95" font-family="Liberation Mono" font-size="12" text-anchor="middle" fill="#1a1a1a">6</text>
<text x="747" y="388.95" font-family="Liberation Mono" font-size="12" text-anchor="middle" fill="#1a1a1a">8</text>
<text x="739.5" y="403.45" font-family="Liberation Mono" font-size="12" text-anchor="middle" fill="#1a1a1a">IC2</text>
<text x="747" y="418.55" font-family="Liberation Mono" font-size="12" text-anchor="middle" fill="#1a1a1a">7</text>
<rect x="763.25" y="383.7" width="12.5" height="30.4" fill="#fff" stroke="#1a1a1a" stroke-width="1.7"/>
<text x="769.5" y="398.9" font-family="Liberation Mono" font-size="13" text-anchor="middle" dominant-baseline="central" transform="rotate(-90 769.5 398.9)" fill="#1a1a1a">R13</text>
<line x1="769.5" y1="368.3" x2="769.5" y2="383.7" stroke="#1a1a1a" stroke-width="1.7"/>
<line x1="769.5" y1="414.1" x2="769.5" y2="445.4" stroke="#1a1a1a" stroke-width="1.7"/>
<circle cx="769.5" cy="430" r="2.7" fill="#1a1a1a"/>
<rect x="763.25" y="445.4" width="12.5" height="30.9" fill="#fff" stroke="#1a1a1a" stroke-width="1.7"/>
<text x="769.5" y="460.85" font-family="Liberation Mono" font-size="13" text-anchor="middle" dominant-baseline="central" transform="rotate(-90 769.5 460.85)" fill="#1a1a1a">R15</text>
<line x1="769.5" y1="476.3" x2="769.5" y2="491.8" stroke="#1a1a1a" stroke-width="1.7"/>
<line x1="769.5" y1="430" x2="792.7" y2="430" stroke="#1a1a1a" stroke-width="1.7"/>
<line x1="792.7" y1="416.6" x2="792.7" y2="443.4" stroke="#1a1a1a" stroke-width="2"/>
<line x1="792.7" y1="421.5" x2="808" y2="413" stroke="#1a1a1a" stroke-width="1.7"/>
<line x1="792.7" y1="438.0" x2="808" y2="444.6" stroke="#1a1a1a" stroke-width="1.7"/>
<polyline fill="none" stroke="#1a1a1a" stroke-width="1.7" points="803.6,439.82 808,444.6 801.5,444.68"/>
<text x="809.8" y="303" font-family="Liberation Mono" font-size="13" text-anchor="start" fill="#1a1a1a">5V</text>
<polyline fill="none" stroke="#1a1a1a" stroke-width="1.7" points="823.7,306.3 808,306.3 808,321.5"/>
<rect x="801.75" y="321.5" width="12.5" height="31.2" fill="#fff" stroke="#1a1a1a" stroke-width="1.7"/>
<text x="808" y="337.1" font-family="Liberation Mono" font-size="13" text-anchor="middle" dominant-baseline="central" transform="rotate(-90 808 337.1)" fill="#1a1a1a">R28</text>
<line x1="808" y1="352.7" x2="808" y2="413" stroke="#1a1a1a" stroke-width="1.7"/>
<line x1="808" y1="444.6" x2="808" y2="491.8" stroke="#1a1a1a" stroke-width="1.7"/>
<text x="786.6" y="426.65" font-family="Liberation Mono" font-size="12" text-anchor="middle" fill="#1a1a1a">4</text>
<text x="817" y="419.35" font-family="Liberation Mono" font-size="12" text-anchor="middle" fill="#1a1a1a">5</text>
<text x="809.4" y="434.45" font-family="Liberation Mono" font-size="12" text-anchor="middle" fill="#1a1a1a">IC1</text>
<text x="817" y="450.95" font-family="Liberation Mono" font-size="12" text-anchor="middle" fill="#1a1a1a">3</text>
<line x1="808" y1="391.7" x2="916" y2="391.9" stroke="#1a1a1a" stroke-width="1.7"/>
<circle cx="808" cy="391.7" r="2.7" fill="#1a1a1a"/>
<circle cx="831" cy="391.7" r="2.7" fill="#1a1a1a"/>
<text x="909.8" y="388.5" font-family="Liberation Mono" font-size="13" text-anchor="end" fill="#1a1a1a">P0.4</text>
<polyline fill="none" stroke="#1a1a1a" stroke-width="1.7" points="831,391.7 831,445.9 854.4,445.9"/>
<line x1="854.4" y1="432.4" x2="854.4" y2="459.3" stroke="#1a1a1a" stroke-width="2"/>
<line x1="854.4" y1="437.35" x2="870.7" y2="428.8" stroke="#1a1a1a" stroke-width="1.7"/>
<line x1="854.4" y1="453.85" x2="870.7" y2="461.7" stroke="#1a1a1a" stroke-width="1.7"/>
<polyline fill="none" stroke="#1a1a1a" stroke-width="1.7" points="866.5,456.74 870.7,461.7 864.2,461.51"/>
<polyline fill="none" stroke="#1a1a1a" stroke-width="1.7" points="870.7,428.8 870.7,414.6 916,414.6"/>
<text x="905.6" y="411.5" font-family="Liberation Mono" font-size="13" text-anchor="end" fill="#1a1a1a">TXD</text>
<line x1="870.7" y1="461.7" x2="870.7" y2="491.8" stroke="#1a1a1a" stroke-width="1.7"/>
<text x="848" y="442.45" font-family="Liberation Mono" font-size="12" text-anchor="middle" fill="#1a1a1a">6</text>
<text x="878" y="435.15" font-family="Liberation Mono" font-size="12" text-anchor="middle" fill="#1a1a1a">8</text>
<text x="870.8" y="450.95" font-family="Liberation Mono" font-size="12" text-anchor="middle" fill="#1a1a1a">IC1</text>
<text x="878" y="464.95" font-family="Liberation Mono" font-size="12" text-anchor="middle" fill="#1a1a1a">7</text>
<text x="631" y="535" font-family="Liberation Mono" font-size="13" text-anchor="start" fill="#1a1a1a">5V</text>
<polyline fill="none" stroke="#1a1a1a" stroke-width="1.7" points="646.3,537.6 629.8,537.6 629.8,553"/>
<rect x="623.55" y="553" width="12.5" height="30.9" fill="#fff" stroke="#1a1a1a" stroke-width="1.7"/>
<text x="629.8" y="568.45" font-family="Liberation Mono" font-size="13" text-anchor="middle" dominant-baseline="central" transform="rotate(-90 629.8 568.45)" fill="#1a1a1a">R25</text>
<line x1="629.8" y1="583.9" x2="629.8" y2="599.8" stroke="#1a1a1a" stroke-width="1.7"/>
<line x1="428.9" y1="599.8" x2="722.7" y2="599.6" stroke="#1a1a1a" stroke-width="1.7"/>
<text x="430.6" y="596.5999999999999" font-family="Liberation Mono" font-size="13" text-anchor="start" fill="#1a1a1a">P0.2</text>
<circle cx="629.8" cy="599.8" r="2.7" fill="#1a1a1a"/>
<circle cx="700" cy="599.8" r="2.7" fill="#1a1a1a"/>
<line x1="428.9" y1="630.2" x2="544.9" y2="630.2" stroke="#1a1a1a" stroke-width="1.7"/>
<rect x="544.9" y="624.4" width="31.2" height="12.0" fill="#fff" stroke="#1a1a1a" stroke-width="1.7"/>
<text x="560.5" y="630.4" font-family="Liberation Mono" font-size="13" text-anchor="middle" dominant-baseline="central" fill="#1a1a1a">R7</text>
<line x1="576.1" y1="630.2" x2="615.1" y2="630.2" stroke="#1a1a1a" stroke-width="1.7"/>
<text x="434.3" y="627.0" font-family="Liberation Mono" font-size="13" text-anchor="start" fill="#1a1a1a">RXD</text>
<circle cx="592" cy="630.2" r="2.7" fill="#1a1a1a"/>
<line x1="592" y1="630.2" x2="592" y2="645.6" stroke="#1a1a1a" stroke-width="1.7"/>
<rect x="585.75" y="645.6" width="12.5" height="31.7" fill="#fff" stroke="#1a1a1a" stroke-width="1.7"/>
<text x="592" y="661.45" font-family="Liberation Mono" font-size="13" text-anchor="middle" dominant-baseline="central" transform="rotate(-90 592 661.45)" fill="#1a1a1a">R5</text>
<line x1="592" y1="677.3" x2="592" y2="692.4" stroke="#1a1a1a" stroke-width="1.7"/>
<line x1="592" y1="692.4" x2="592" y2="707" stroke="#1a1a1a" stroke-width="1.7"/>
<line x1="583" y1="707" x2="601" y2="707" stroke="#1a1a1a" stroke-width="3.2"/>
<line x1="615.1" y1="616.3" x2="615.1" y2="644.1" stroke="#1a1a1a" stroke-width="2"/>
<line x1="615.1" y1="621.7" x2="629.8" y2="615.6" stroke="#1a1a1a" stroke-width="1.7"/>
<line x1="615.1" y1="638.2" x2="629.8" y2="644.9" stroke="#1a1a1a" stroke-width="1.7"/>
<polyline fill="none" stroke="#1a1a1a" stroke-width="1.7" points="625.5,640.03 629.8,644.9 623.3,644.85"/>
<line x1="629.8" y1="615.6" x2="629.8" y2="599.8" stroke="#1a1a1a" stroke-width="1.7"/>
<line x1="629.8" y1="644.9" x2="629.8" y2="692.4" stroke="#1a1a1a" stroke-width="1.7"/>
<text x="607.8" y="627.65" font-family="Liberation Mono" font-size="12" text-anchor="middle" fill="#1a1a1a">2</text>
<text x="638.3" y="619.55" font-family="Liberation Mono" font-size="12" text-anchor="middle" fill="#1a1a1a">1</text>
<text x="632.2" y="635.45" font-family="Liberation Mono" font-size="12" text-anchor="middle" fill="#1a1a1a">IC2</text>
<text x="638.3" y="649.95" font-family="Liberation Mono" font-size="12" text-anchor="middle" fill="#1a1a1a">3</text>
<polyline fill="none" stroke="#1a1a1a" stroke-width="1.7" points="592,692.4 870.6,692.6 870.6,662"/>
<circle cx="592" cy="692.5" r="2.7" fill="#1a1a1a"/>
<circle cx="629.8" cy="692.5" r="2.7" fill="#1a1a1a"/>
<circle cx="700" cy="692.5" r="2.7" fill="#1a1a1a"/>
<circle cx="738.3" cy="692.5" r="2.7" fill="#1a1a1a"/>
<circle cx="769.5" cy="692.5" r="2.7" fill="#1a1a1a"/>
<circle cx="808.6" cy="692.5" r="2.7" fill="#1a1a1a"/>
<line x1="669" y1="630.5" x2="683.7" y2="630.5" stroke="#1a1a1a" stroke-width="1.7"/>
<line x1="683.7" y1="615.4" x2="683.7" y2="643.9" stroke="#1a1a1a" stroke-width="2"/>
<line x1="683.7" y1="621.15" x2="700" y2="614" stroke="#1a1a1a" stroke-width="1.7"/>
<line x1="683.7" y1="637.65" x2="700" y2="645" stroke="#1a1a1a" stroke-width="1.7"/>
<polyline fill="none" stroke="#1a1a1a" stroke-width="1.7" points="695.68,640.14 700,645 693.5,644.98"/>
<line x1="700" y1="614" x2="700" y2="599.8" stroke="#1a1a1a" stroke-width="1.7"/>
<line x1="700" y1="645" x2="700" y2="692.5" stroke="#1a1a1a" stroke-width="1.7"/>
<text x="678" y="626.65" font-family="Liberation Mono" font-size="12" text-anchor="middle" fill="#1a1a1a">4</text>
<text x="708" y="619.35" font-family="Liberation Mono" font-size="12" text-anchor="middle" fill="#1a1a1a">5</text>
<text x="700.2" y="635.15" font-family="Liberation Mono" font-size="12" text-anchor="middle" fill="#1a1a1a">IC3</text>
<text x="708" y="650.95" font-family="Liberation Mono" font-size="12" text-anchor="middle" fill="#1a1a1a">3</text>
<text x="740.7" y="503.2" font-family="Liberation Mono" font-size="13" text-anchor="start" fill="#1a1a1a">+U</text>
<polyline fill="none" stroke="#1a1a1a" stroke-width="1.7" points="754.4,507.3 738.3,507.3 738.3,522.7"/>
<rect x="732.05" y="522.7" width="12.5" height="30.5" fill="#fff" stroke="#1a1a1a" stroke-width="1.7"/>
<text x="738.3" y="537.95" font-family="Liberation Mono" font-size="13" text-anchor="middle" dominant-baseline="central" transform="rotate(-90 738.3 537.95)" fill="#1a1a1a">R18</text>
<line x1="738.3" y1="553.2" x2="738.3" y2="569.8" stroke="#1a1a1a" stroke-width="1.7"/>
<line x1="738.3" y1="569.8" x2="1063.7" y2="570" stroke="#1a1a1a" stroke-width="1.7"/>
<circle cx="738.3" cy="569.8" r="2.7" fill="#1a1a1a"/>
<circle cx="769.5" cy="569.8" r="2.7" fill="#1a1a1a"/>
<line x1="722.7" y1="585.4" x2="722.7" y2="613.7" stroke="#1a1a1a" stroke-width="2"/>
<line x1="722.7" y1="591.05" x2="738.3" y2="582.9" stroke="#1a1a1a" stroke-width="1.7"/>
<line x1="722.7" y1="607.55" x2="738.3" y2="614.4" stroke="#1a1a1a" stroke-width="1.7"/>
<polyline fill="none" stroke="#1a1a1a" stroke-width="1.7" points="733.93,609.59 738.3,614.4 731.8,614.44"/>
<line x1="738.3" y1="582.9" x2="738.3" y2="569.8" stroke="#1a1a1a" stroke-width="1.7"/>
<line x1="738.3" y1="614.4" x2="738.3" y2="692.5" stroke="#1a1a1a" stroke-width="1.7"/>
<text x="716.3" y="596.65" font-family="Liberation Mono" font-size="12" text-anchor="middle" fill="#1a1a1a">6</text>
<text x="747" y="588.95" font-family="Liberation Mono" font-size="12" text-anchor="middle" fill="#1a1a1a">8</text>
<text x="739.5" y="604.65" font-family="Liberation Mono" font-size="12" text-anchor="middle" fill="#1a1a1a">IC3</text>
<text x="747" y="619.35" font-family="Liberation Mono" font-size="12" text-anchor="middle" fill="#1a1a1a">7</text>
<rect x="763.25" y="584.4" width="12.5" height="31.0" fill="#fff" stroke="#1a1a1a" stroke-width="1.7"/>
<text x="769.5" y="599.9" font-family="Liberation Mono" font-size="13" text-anchor="middle" dominant-baseline="central" transform="rotate(-90 769.5 599.9)" fill="#1a1a1a">R23</text>
<line x1="769.5" y1="569.8" x2="769.5" y2="584.4" stroke="#1a1a1a" stroke-width="1.7"/>
<line x1="769.5" y1="615.4" x2="769.5" y2="646.3" stroke="#1a1a1a" stroke-width="1.7"/>
<circle cx="769.5" cy="631.2" r="2.7" fill="#1a1a1a"/>
<rect x="763.25" y="646.3" width="12.5" height="30.7" fill="#fff" stroke="#1a1a1a" stroke-width="1.7"/>
<text x="769.5" y="661.65" font-family="Liberation Mono" font-size="13" text-anchor="middle" dominant-baseline="central" transform="rotate(-90 769.5 661.65)" fill="#1a1a1a">R21</text>
<line x1="769.5" y1="677" x2="769.5" y2="692.5" stroke="#1a1a1a" stroke-width="1.7"/>
<line x1="769.5" y1="631.2" x2="792.7" y2="631.2" stroke="#1a1a1a" stroke-width="1.7"/>
<line x1="792.7" y1="616.6" x2="792.7" y2="644.6" stroke="#1a1a1a" stroke-width="2"/>
<line x1="792.7" y1="622.1" x2="808" y2="614.4" stroke="#1a1a1a" stroke-width="1.7"/>
<line x1="792.7" y1="638.6" x2="808" y2="645" stroke="#1a1a1a" stroke-width="1.7"/>
<polyline fill="none" stroke="#1a1a1a" stroke-width="1.7" points="803.55,640.26 808,645 801.5,645.15"/>
<text x="809.8" y="503" font-family="Liberation Mono" font-size="13" text-anchor="start" fill="#1a1a1a">5V</text>
<polyline fill="none" stroke="#1a1a1a" stroke-width="1.7" points="823.7,507.3 808,507.3 808,523.4"/>
<rect x="801.75" y="523.4" width="12.5" height="30.3" fill="#fff" stroke="#1a1a1a" stroke-width="1.7"/>
<text x="808" y="538.55" font-family="Liberation Mono" font-size="13" text-anchor="middle" dominant-baseline="central" transform="rotate(-90 808 538.55)" fill="#1a1a1a">R12</text>
<line x1="808" y1="553.7" x2="808" y2="614.4" stroke="#1a1a1a" stroke-width="1.7"/>
<line x1="808" y1="645" x2="808" y2="692.5" stroke="#1a1a1a" stroke-width="1.7"/>
<text x="787" y="627.95" font-family="Liberation Mono" font-size="12" text-anchor="middle" fill="#1a1a1a">2</text>
<text x="817" y="619.95" font-family="Liberation Mono" font-size="12" text-anchor="middle" fill="#1a1a1a">1</text>
<text x="809.4" y="635.45" font-family="Liberation Mono" font-size="12" text-anchor="middle" fill="#1a1a1a">IC1</text>
<text x="817" y="650.95" font-family="Liberation Mono" font-size="12" text-anchor="middle" fill="#1a1a1a">3</text>
<line x1="808" y1="592.2" x2="916" y2="592.4" stroke="#1a1a1a" stroke-width="1.7"/>
<circle cx="808" cy="592.2" r="2.7" fill="#1a1a1a"/>
<circle cx="831.7" cy="592.2" r="2.7" fill="#1a1a1a"/>
<text x="909.8" y="588.5" font-family="Liberation Mono" font-size="13" text-anchor="end" fill="#1a1a1a">P0.5</text>
<polyline fill="none" stroke="#1a1a1a" stroke-width="1.7" points="831.7,592.2 831.7,647 854.9,647"/>
<line x1="854.9" y1="633.2" x2="854.9" y2="660.5" stroke="#1a1a1a" stroke-width="2"/>
<line x1="854.9" y1="638.35" x2="870.7" y2="629.5" stroke="#1a1a1a" stroke-width="1.7"/>
<line x1="854.9" y1="654.85" x2="870.7" y2="662" stroke="#1a1a1a" stroke-width="1.7"/>
<polyline fill="none" stroke="#1a1a1a" stroke-width="1.7" points="866.39,657.14 870.7,662 864.2,661.97"/>
<polyline fill="none" stroke="#1a1a1a" stroke-width="1.7" points="870.7,629.5 870.7,616.1 916,616.1"/>
<text x="905.6" y="613" font-family="Liberation Mono" font-size="13" text-anchor="end" fill="#1a1a1a">TXD</text>
<text x="848" y="643.75" font-family="Liberation Mono" font-size="12" text-anchor="middle" fill="#1a1a1a">9</text>
<text x="879" y="636.35" font-family="Liberation Mono" font-size="12" text-anchor="middle" fill="#1a1a1a">11</text>
<text x="870.8" y="651.75" font-family="Liberation Mono" font-size="12" text-anchor="middle" fill="#1a1a1a">IC3</text>
<text x="879" y="666.35" font-family="Liberation Mono" font-size="12" text-anchor="middle" fill="#1a1a1a">10</text>
<text x="632.6" y="735.6" font-family="Liberation Mono" font-size="13" text-anchor="start" fill="#1a1a1a">5V</text>
<polyline fill="none" stroke="#1a1a1a" stroke-width="1.7" points="646.8,738.7 630.8,738.7 630.8,753.6"/>
<rect x="624.55" y="753.6" width="12.5" height="31.4" fill="#fff" stroke="#1a1a1a" stroke-width="1.7"/>
<text x="630.8" y="769.3" font-family="Liberation Mono" font-size="13" text-anchor="middle" dominant-baseline="central" transform="rotate(-90 630.8 769.3)" fill="#1a1a1a">R27</text>
<line x1="630.8" y1="785" x2="630.8" y2="800.5" stroke="#1a1a1a" stroke-width="1.7"/>
<line x1="428.9" y1="800.5" x2="723" y2="800.8" stroke="#1a1a1a" stroke-width="1.7"/>
<text x="430.6" y="797.3" font-family="Liberation Mono" font-size="13" text-anchor="start" fill="#1a1a1a">P0.0</text>
<circle cx="630.8" cy="800.5" r="2.7" fill="#1a1a1a"/>
<circle cx="699.6" cy="800.8" r="2.7" fill="#1a1a1a"/>
<line x1="428.9" y1="831.4" x2="553.5" y2="831.4" stroke="#1a1a1a" stroke-width="1.7"/>
<rect x="553.5" y="825.8" width="31.5" height="12.0" fill="#fff" stroke="#1a1a1a" stroke-width="1.7"/>
<text x="569.25" y="831.8" font-family="Liberation Mono" font-size="13" text-anchor="middle" dominant-baseline="central" fill="#1a1a1a">R6</text>
<line x1="585" y1="831.4" x2="615.4" y2="831.4" stroke="#1a1a1a" stroke-width="1.7"/>
<text x="434.5" y="828.1999999999999" font-family="Liberation Mono" font-size="13" text-anchor="start" fill="#1a1a1a">RXD</text>
<circle cx="599.9" cy="831.4" r="2.7" fill="#1a1a1a"/>
<line x1="599.9" y1="831.4" x2="599.9" y2="846.9" stroke="#1a1a1a" stroke-width="1.7"/>
<rect x="593.65" y="846.9" width="12.5" height="30.9" fill="#fff" stroke="#1a1a1a" stroke-width="1.7"/>
<text x="599.9" y="862.3499999999999" font-family="Liberation Mono" font-size="13" text-anchor="middle" dominant-baseline="central" transform="rotate(-90 599.9 862.3499999999999)" fill="#1a1a1a">R22</text>
<line x1="599.9" y1="877.8" x2="599.9" y2="901" stroke="#1a1a1a" stroke-width="1.7"/>
<line x1="599.9" y1="901" x2="599.9" y2="916" stroke="#1a1a1a" stroke-width="1.7"/>
<line x1="590.9" y1="916" x2="608.9" y2="916" stroke="#1a1a1a" stroke-width="3.2"/>
<line x1="615.4" y1="817.3" x2="615.4" y2="845.6" stroke="#1a1a1a" stroke-width="2"/>
<line x1="615.4" y1="822.95" x2="630.8" y2="814.7" stroke="#1a1a1a" stroke-width="1.7"/>
<line x1="615.4" y1="839.45" x2="630.8" y2="846.4" stroke="#1a1a1a" stroke-width="1.7"/>
<polyline fill="none" stroke="#1a1a1a" stroke-width="1.7" points="626.48,841.54 630.8,846.4 624.3,846.37"/>
<line x1="630.8" y1="814.7" x2="630.8" y2="800.5" stroke="#1a1a1a" stroke-width="1.7"/>
<line x1="630.8" y1="846.4" x2="630.8" y2="901" stroke="#1a1a1a" stroke-width="1.7"/>
<text x="609.4" y="828.15" font-family="Liberation Mono" font-size="12" text-anchor="middle" fill="#1a1a1a">9</text>
<text x="641" y="820.45" font-family="Liberation Mono" font-size="12" text-anchor="middle" fill="#1a1a1a">11</text>
<text x="632.6" y="835.95" font-family="Liberation Mono" font-size="12" text-anchor="middle" fill="#1a1a1a">IC2</text>
<text x="641" y="851.35" font-family="Liberation Mono" font-size="12" text-anchor="middle" fill="#1a1a1a">10</text>
<polyline fill="none" stroke="#1a1a1a" stroke-width="1.7" points="599.9,901 870.6,900.6 870.6,870.3"/>
<circle cx="599.9" cy="900.8" r="2.7" fill="#1a1a1a"/>
<circle cx="630.8" cy="900.8" r="2.7" fill="#1a1a1a"/>
<circle cx="699.6" cy="900.8" r="2.7" fill="#1a1a1a"/>
<circle cx="738.3" cy="900.8" r="2.7" fill="#1a1a1a"/>
<circle cx="769.4" cy="900.8" r="2.7" fill="#1a1a1a"/>
<circle cx="808.6" cy="900.8" r="2.7" fill="#1a1a1a"/>
<line x1="684.5" y1="816.5" x2="684.5" y2="845.5" stroke="#1a1a1a" stroke-width="2"/>
<line x1="684.5" y1="822.5" x2="699.6" y2="816.5" stroke="#1a1a1a" stroke-width="1.7"/>
<line x1="684.5" y1="839.0" x2="699.6" y2="846.8" stroke="#1a1a1a" stroke-width="1.7"/>
<polyline fill="none" stroke="#1a1a1a" stroke-width="1.7" points="695.54,841.72 699.6,846.8 693.11,846.43"/>
<line x1="699.6" y1="816.5" x2="699.6" y2="800.8" stroke="#1a1a1a" stroke-width="1.7"/>
<line x1="699.6" y1="846.8" x2="699.6" y2="900.8" stroke="#1a1a1a" stroke-width="1.7"/>
<text x="677.6" y="827.95" font-family="Liberation Mono" font-size="12" text-anchor="middle" fill="#1a1a1a">2</text>
<text x="708.5" y="819.65" font-family="Liberation Mono" font-size="12" text-anchor="middle" fill="#1a1a1a">1</text>
<text x="702.4" y="835.65" font-family="Liberation Mono" font-size="12" text-anchor="middle" fill="#1a1a1a">IC3</text>
<text x="708.5" y="851.65" font-family="Liberation Mono" font-size="12" text-anchor="middle" fill="#1a1a1a">3</text>
<line x1="723" y1="787.6" x2="723" y2="815.1" stroke="#1a1a1a" stroke-width="2"/>
<line x1="723" y1="792.85" x2="738.3" y2="784.8" stroke="#1a1a1a" stroke-width="1.7"/>
<line x1="723" y1="809.35" x2="738.3" y2="815.1" stroke="#1a1a1a" stroke-width="1.7"/>
<polyline fill="none" stroke="#1a1a1a" stroke-width="1.7" points="733.68,810.53 738.3,815.1 731.81,815.49"/>
<text x="741" y="704.8" font-family="Liberation Mono" font-size="13" text-anchor="start" fill="#1a1a1a">+U</text>
<polyline fill="none" stroke="#1a1a1a" stroke-width="1.7" points="754.8,708.4 738.3,708.4 738.3,724.1"/>
<rect x="732.05" y="724.1" width="12.5" height="30.4" fill="#fff" stroke="#1a1a1a" stroke-width="1.7"/>
<text x="738.3" y="739.3" font-family="Liberation Mono" font-size="13" text-anchor="middle" dominant-baseline="central" transform="rotate(-90 738.3 739.3)" fill="#1a1a1a">R19</text>
<line x1="738.3" y1="754.5" x2="738.3" y2="769.6" stroke="#1a1a1a" stroke-width="1.7"/>
<line x1="738.3" y1="784.8" x2="738.3" y2="769.6" stroke="#1a1a1a" stroke-width="1.7"/>
<line x1="738.3" y1="815.1" x2="738.3" y2="900.8" stroke="#1a1a1a" stroke-width="1.7"/>
<polyline fill="none" stroke="#1a1a1a" stroke-width="1.7" points="738.3,769.6 944,770.5 944,523.6 1063.7,523.6"/>
<circle cx="738.3" cy="769.6" r="2.7" fill="#1a1a1a"/>
<circle cx="769.4" cy="769.6" r="2.7" fill="#1a1a1a"/>
<text x="716" y="796.95" font-family="Liberation Mono" font-size="12" text-anchor="middle" fill="#1a1a1a">12</text>
<text x="748" y="789.95" font-family="Liberation Mono" font-size="12" text-anchor="middle" fill="#1a1a1a">14</text>
<text x="741" y="805.25" font-family="Liberation Mono" font-size="12" text-anchor="middle" fill="#1a1a1a">IC2</text>
<text x="748" y="820.45" font-family="Liberation Mono" font-size="12" text-anchor="middle" fill="#1a1a1a">13</text>
<rect x="763.15" y="793" width="12.5" height="30.4" fill="#fff" stroke="#1a1a1a" stroke-width="1.7"/>
<text x="769.4" y="808.2" font-family="Liberation Mono" font-size="13" text-anchor="middle" dominant-baseline="central" transform="rotate(-90 769.4 808.2)" fill="#1a1a1a">R16</text>
<line x1="769.4" y1="769.6" x2="769.4" y2="793" stroke="#1a1a1a" stroke-width="1.7"/>
<line x1="769.4" y1="823.4" x2="769.4" y2="854.3" stroke="#1a1a1a" stroke-width="1.7"/>
<circle cx="769.4" cy="839.4" r="2.7" fill="#1a1a1a"/>
<rect x="763.15" y="854.3" width="12.5" height="31.2" fill="#fff" stroke="#1a1a1a" stroke-width="1.7"/>
<text x="769.4" y="869.9" font-family="Liberation Mono" font-size="13" text-anchor="middle" dominant-baseline="central" transform="rotate(-90 769.4 869.9)" fill="#1a1a1a">R14</text>
<line x1="769.4" y1="885.5" x2="769.4" y2="900.8" stroke="#1a1a1a" stroke-width="1.7"/>
<line x1="769.4" y1="839.4" x2="794" y2="839.4" stroke="#1a1a1a" stroke-width="1.7"/>
<line x1="794" y1="823.4" x2="794" y2="853.7" stroke="#1a1a1a" stroke-width="2"/>
<line x1="794" y1="830.05" x2="808.6" y2="823.4" stroke="#1a1a1a" stroke-width="1.7"/>
<line x1="794" y1="846.55" x2="808.6" y2="854.3" stroke="#1a1a1a" stroke-width="1.7"/>
<polyline fill="none" stroke="#1a1a1a" stroke-width="1.7" points="804.6,849.18 808.6,854.3 802.12,853.86"/>
<text x="810" y="704.8" font-family="Liberation Mono" font-size="13" text-anchor="start" fill="#1a1a1a">5V</text>
<polyline fill="none" stroke="#1a1a1a" stroke-width="1.7" points="823.7,708.4 808.6,708.4 808.6,724.1"/>
<rect x="802.35" y="724.1" width="12.5" height="30.4" fill="#fff" stroke="#1a1a1a" stroke-width="1.7"/>
<text x="808.6" y="739.3" font-family="Liberation Mono" font-size="13" text-anchor="middle" dominant-baseline="central" transform="rotate(-90 808.6 739.3)" fill="#1a1a1a">R24</text>
<line x1="808.6" y1="754.5" x2="808.6" y2="823.4" stroke="#1a1a1a" stroke-width="1.7"/>
<line x1="808.6" y1="854.3" x2="808.6" y2="900.8" stroke="#1a1a1a" stroke-width="1.7"/>
<text x="786.5" y="834.95" font-family="Liberation Mono" font-size="12" text-anchor="middle" fill="#1a1a1a">9</text>
<text x="818" y="827.95" font-family="Liberation Mono" font-size="12" text-anchor="middle" fill="#1a1a1a">11</text>
<text x="810.6" y="843.95" font-family="Liberation Mono" font-size="12" text-anchor="middle" fill="#1a1a1a">IC1</text>
<text x="818" y="858.95" font-family="Liberation Mono" font-size="12" text-anchor="middle" fill="#1a1a1a">10</text>
<line x1="808.6" y1="801.3" x2="916" y2="801.5" stroke="#1a1a1a" stroke-width="1.7"/>
<circle cx="808.6" cy="801.3" r="2.7" fill="#1a1a1a"/>
<circle cx="832" cy="801.3" r="2.7" fill="#1a1a1a"/>
<text x="910.6" y="797" font-family="Liberation Mono" font-size="13" text-anchor="end" fill="#1a1a1a">P0.3</text>
<polyline fill="none" stroke="#1a1a1a" stroke-width="1.7" points="832,801.3 832,855.1 855.5,855.1"/>
<line x1="855.5" y1="841.3" x2="855.5" y2="870.3" stroke="#1a1a1a" stroke-width="2"/>
<line x1="855.5" y1="847.3" x2="870.6" y2="839.4" stroke="#1a1a1a" stroke-width="1.7"/>
<line x1="855.5" y1="863.8" x2="870.6" y2="870.3" stroke="#1a1a1a" stroke-width="1.7"/>
<polyline fill="none" stroke="#1a1a1a" stroke-width="1.7" points="866.2,865.52 870.6,870.3 864.1,870.39"/>
<polyline fill="none" stroke="#1a1a1a" stroke-width="1.7" points="870.6,839.4 870.6,824 916,824"/>
<text x="906" y="820.6" font-family="Liberation Mono" font-size="13" text-anchor="end" fill="#1a1a1a">TXD</text>
<text x="848.3" y="852.75" font-family="Liberation Mono" font-size="12" text-anchor="middle" fill="#1a1a1a">12</text>
<text x="880" y="843.95" font-family="Liberation Mono" font-size="12" text-anchor="middle" fill="#1a1a1a">14</text>
<text x="872" y="860.45" font-family="Liberation Mono" font-size="12" text-anchor="middle" fill="#1a1a1a">IC1</text>
<text x="880" y="874.75" font-family="Liberation Mono" font-size="12" text-anchor="middle" fill="#1a1a1a">13</text>
<text x="738.7" y="25.3" font-family="Liberation Mono" font-size="13" text-anchor="start" fill="#1a1a1a">P1.0</text>
<polyline fill="none" stroke="#1a1a1a" stroke-width="1.7" points="730.3,28.7 784.2,28.7 784.2,35.8 800.3,42.5"/>
<line x1="800.3" y1="37.5" x2="800.3" y2="65.8" stroke="#1a1a1a" stroke-width="2.2"/>
<polyline fill="none" stroke="#1a1a1a" stroke-width="1.7" points="800.3,50.8 847,50.8 847,82.8"/>
<line x1="800.3" y1="60" x2="785" y2="66.7" stroke="#1a1a1a" stroke-width="1.7"/>
<polyline fill="none" stroke="#1a1a1a" stroke-width="1.7" points="791.5,66.75 785,66.7 789.37,61.89"/>
<line x1="785" y1="66.7" x2="785" y2="82.8" stroke="#1a1a1a" stroke-width="1.7"/>
<line x1="785" y1="82.8" x2="785" y2="97" stroke="#1a1a1a" stroke-width="1.7"/>
<line x1="776" y1="97" x2="794" y2="97" stroke="#1a1a1a" stroke-width="3.2"/>
<text x="784" y="50" font-family="Liberation Mono" font-size="13" text-anchor="middle" dominant-baseline="central" transform="rotate(-90 784 50)" fill="#1a1a1a">T4</text>
<line x1="785" y1="82.8" x2="800.3" y2="82.8" stroke="#1a1a1a" stroke-width="1.7"/>
<rect x="800.3" y="76.3" width="31.0" height="12.0" fill="#fff" stroke="#1a1a1a" stroke-width="1.7"/>
<text x="815.8" y="82.3" font-family="Liberation Mono" font-size="13" text-anchor="middle" dominant-baseline="central" fill="#1a1a1a">R10</text>
<line x1="831.3" y1="82.8" x2="861.7" y2="82.8" stroke="#1a1a1a" stroke-width="1.7"/>
<rect x="861.7" y="76.3" width="30.8" height="12.0" fill="#fff" stroke="#1a1a1a" stroke-width="1.7"/>
<text x="877.1" y="82.3" font-family="Liberation Mono" font-size="13" text-anchor="middle" dominant-baseline="central" fill="#1a1a1a">R11</text>
<polyline fill="none" stroke="#1a1a1a" stroke-width="1.7" points="892.5,82.6 981.9,82.4 981.9,507.5 1063.7,507.5"/>
<circle cx="785" cy="82.8" r="2.7" fill="#1a1a1a"/>
<circle cx="847" cy="82.8" r="2.7" fill="#1a1a1a"/>
<text x="840" y="110.2" font-family="Liberation Mono" font-size="13" text-anchor="start" fill="#1a1a1a">5V</text>
<polyline fill="none" stroke="#1a1a1a" stroke-width="1.7" points="807.6,128 807.6,113.5 854.8,113.5"/>
<circle cx="831.3" cy="113.5" r="2.7" fill="#1a1a1a"/>
<line x1="831.3" y1="113.5" x2="831.3" y2="128" stroke="#1a1a1a" stroke-width="1.7"/>
<rect x="801.35" y="128" width="12.5" height="31.8" fill="#fff" stroke="#1a1a1a" stroke-width="1.7"/>
<text x="807.6" y="143.9" font-family="Liberation Mono" font-size="13" text-anchor="middle" dominant-baseline="central" transform="rotate(-90 807.6 143.9)" fill="#1a1a1a">R1</text>
<rect x="825.05" y="128" width="12.5" height="31.8" fill="#fff" stroke="#1a1a1a" stroke-width="1.7"/>
<text x="831.3" y="143.9" font-family="Liberation Mono" font-size="13" text-anchor="middle" dominant-baseline="central" transform="rotate(-90 831.3 143.9)" fill="#1a1a1a">R3</text>
<line x1="807.6" y1="159.8" x2="807.6" y2="260" stroke="#1a1a1a" stroke-width="1.7"/>
<line x1="831.3" y1="159.8" x2="831.3" y2="175.4" stroke="#1a1a1a" stroke-width="1.7"/>
<circle cx="831.3" cy="175.4" r="2.7" fill="#1a1a1a"/>
<circle cx="807.6" cy="260" r="2.7" fill="#1a1a1a"/>
<text x="738.5" y="171.5" font-family="Liberation Mono" font-size="13" text-anchor="start" fill="#1a1a1a">P0.6</text>
<line x1="729.8" y1="175.4" x2="853.7" y2="175.4" stroke="#1a1a1a" stroke-width="1.7"/>
<text x="738.5" y="255.9" font-family="Liberation Mono" font-size="13" text-anchor="start" fill="#1a1a1a">P0.7</text>
<line x1="729.8" y1="259.8" x2="853.7" y2="259.8" stroke="#1a1a1a" stroke-width="1.7"/>
<line x1="854.4" y1="161.5" x2="854.4" y2="188.8" stroke="#1a1a1a" stroke-width="2"/>
<line x1="854.4" y1="165.8" x2="870.1" y2="158.7" stroke="#1a1a1a" stroke-width="1.7"/>
<line x1="854.4" y1="181.6" x2="870.1" y2="190.2" stroke="#1a1a1a" stroke-width="1.7"/>
<polyline fill="none" stroke="#1a1a1a" stroke-width="1.7" points="866.17,185.02 870.1,190.2 863.62,189.67"/>
<polyline fill="none" stroke="#1a1a1a" stroke-width="1.7" points="870.1,158.7 870.1,152.1 1016.8,152.1 1016.8,539.5 1063.7,539.5"/>
<line x1="870.1" y1="190.2" x2="870.1" y2="205.4" stroke="#1a1a1a" stroke-width="1.7"/>
<line x1="861.1" y1="205.4" x2="879.1" y2="205.4" stroke="#1a1a1a" stroke-width="3.2"/>
<text x="871" y="174.3" font-family="Liberation Mono" font-size="13" text-anchor="middle" dominant-baseline="central" transform="rotate(-90 871 174.3)" fill="#1a1a1a">T1</text>
<line x1="854.4" y1="246" x2="854.4" y2="273.3" stroke="#1a1a1a" stroke-width="2"/>
<line x1="854.4" y1="250.4" x2="870.1" y2="243.2" stroke="#1a1a1a" stroke-width="1.7"/>
<line x1="854.4" y1="266.5" x2="870.1" y2="275" stroke="#1a1a1a" stroke-width="1.7"/>
<polyline fill="none" stroke="#1a1a1a" stroke-width="1.7" points="866.14,269.84 870.1,275 863.62,274.51"/>
<polyline fill="none" stroke="#1a1a1a" stroke-width="1.7" points="870.1,243.2 870.1,237.5 1032.9,237.5 1032.9,368.7 1063.7,368.7"/>
<line x1="870.1" y1="275" x2="870.1" y2="291" stroke="#1a1a1a" stroke-width="1.7"/>
<line x1="861.1" y1="291" x2="879.1" y2="291" stroke="#1a1a1a" stroke-width="3.2"/>
<text x="871" y="257" font-family="Liberation Mono" font-size="13" text-anchor="middle" dominant-baseline="central" transform="rotate(-90 871 257)" fill="#1a1a1a">T2</text>
<polyline fill="none" stroke="#1a1a1a" stroke-width="1.7" points="997.6,220.9 997.6,477 1063.7,477"/>
<polyline fill="none" stroke="#1a1a1a" stroke-width="1.7" points="916,368.5 967,368.5 967,492.5 1063.7,492.5"/>
<polyline fill="none" stroke="#1a1a1a" stroke-width="1.7" points="916,492.3 959.5,492.5 959.5,554.3 1063.7,554.3"/>
<rect x="1063.7" y="268.6" width="121.6" height="309.0" fill="none" stroke="#1a1a1a" stroke-width="1.7"/>
<line x1="1094.5" y1="268.6" x2="1094.5" y2="577.6" stroke="#1a1a1a" stroke-width="1.7"/>
<line x1="1063.7" y1="284.05" x2="1185.3" y2="284.05" stroke="#1a1a1a" stroke-width="1.7"/>
<line x1="1063.7" y1="299.5" x2="1185.3" y2="299.5" stroke="#1a1a1a" stroke-width="1.7"/>
<line x1="1063.7" y1="314.95000000000005" x2="1185.3" y2="314.95000000000005" stroke="#1a1a1a" stroke-width="1.7"/>
<line x1="1063.7" y1="330.40000000000003" x2="1185.3" y2="330.40000000000003" stroke="#1a1a1a" stroke-width="1.7"/>
<line x1="1063.7" y1="345.85" x2="1185.3" y2="345.85" stroke="#1a1a1a" stroke-width="1.7"/>
<line x1="1063.7" y1="361.3" x2="1185.3" y2="361.3" stroke="#1a1a1a" stroke-width="1.7"/>
<line x1="1063.7" y1="376.75" x2="1185.3" y2="376.75" stroke="#1a1a1a" stroke-width="1.7"/>
<line x1="1063.7" y1="392.20000000000005" x2="1185.3" y2="392.20000000000005" stroke="#1a1a1a" stroke-width="1.7"/>
<line x1="1063.7" y1="407.65" x2="1185.3" y2="407.65" stroke="#1a1a1a" stroke-width="1.7"/>
<line x1="1063.7" y1="423.1" x2="1185.3" y2="423.1" stroke="#1a1a1a" stroke-width="1.7"/>
<line x1="1063.7" y1="438.55" x2="1185.3" y2="438.55" stroke="#1a1a1a" stroke-width="1.7"/>
<line x1="1063.7" y1="454.0" x2="1185.3" y2="454.0" stroke="#1a1a1a" stroke-width="1.7"/>
<line x1="1063.7" y1="469.45000000000005" x2="1185.3" y2="469.45000000000005" stroke="#1a1a1a" stroke-width="1.7"/>
<line x1="1063.7" y1="484.9" x2="1185.3" y2="484.9" stroke="#1a1a1a" stroke-width="1.7"/>
<line x1="1063.7" y1="500.35" x2="1185.3" y2="500.35" stroke="#1a1a1a" stroke-width="1.7"/>
<line x1="1063.7" y1="515.8" x2="1185.3" y2="515.8" stroke="#1a1a1a" stroke-width="1.7"/>
<line x1="1063.7" y1="531.25" x2="1185.3" y2="531.25" stroke="#1a1a1a" stroke-width="1.7"/>
<line x1="1063.7" y1="546.7" x2="1185.3" y2="546.7" stroke="#1a1a1a" stroke-width="1.7"/>
<line x1="1063.7" y1="562.1500000000001" x2="1185.3" y2="562.1500000000001" stroke="#1a1a1a" stroke-width="1.7"/>
<text x="1080.5" y="280.61" font-family="Liberation Mono" font-size="13" text-anchor="middle" fill="#1a1a1a">1</text>
<text x="1102.5" y="280.92500000000007" font-family="Liberation Sans" font-size="12.5" text-anchor="start" font-style="italic" textLength="67.5" lengthAdjust="spacingAndGlyphs" style="stroke-width:0.5px" fill="#1a1a1a">сигн. обор.</text>
<line x1="1057" y1="276.32500000000005" x2="1063.7" y2="276.32500000000005" stroke="#1a1a1a" stroke-width="1.7"/>
<line x1="1052.3" y1="273.12500000000006" x2="1058.7" y2="279.52500000000003" stroke="#1a1a1a" stroke-width="1.7"/>
<line x1="1052.3" y1="279.52500000000003" x2="1058.7" y2="273.12500000000006" stroke="#1a1a1a" stroke-width="1.7"/>
<text x="1080.5" y="296.06" font-family="Liberation Mono" font-size="13" text-anchor="middle" fill="#1a1a1a">2</text>
<line x1="1057" y1="291.775" x2="1063.7" y2="291.775" stroke="#1a1a1a" stroke-width="1.7"/>
<line x1="1052.3" y1="288.575" x2="1058.7" y2="294.97499999999997" stroke="#1a1a1a" stroke-width="1.7"/>
<line x1="1052.3" y1="294.97499999999997" x2="1058.7" y2="288.575" stroke="#1a1a1a" stroke-width="1.7"/>
<text x="1080.5" y="311.51" font-family="Liberation Mono" font-size="13" text-anchor="middle" fill="#1a1a1a">3</text>
<line x1="1057" y1="307.225" x2="1063.7" y2="307.225" stroke="#1a1a1a" stroke-width="1.7"/>
<line x1="1052.3" y1="304.02500000000003" x2="1058.7" y2="310.425" stroke="#1a1a1a" stroke-width="1.7"/>
<line x1="1052.3" y1="310.425" x2="1058.7" y2="304.02500000000003" stroke="#1a1a1a" stroke-width="1.7"/>
<text x="1080.5" y="326.96" font-family="Liberation Mono" font-size="13" text-anchor="middle" fill="#1a1a1a">4</text>
<line x1="1057" y1="322.67500000000007" x2="1063.7" y2="322.67500000000007" stroke="#1a1a1a" stroke-width="1.7"/>
<line x1="1052.3" y1="319.4750000000001" x2="1058.7" y2="325.87500000000006" stroke="#1a1a1a" stroke-width="1.7"/>
<line x1="1052.3" y1="325.87500000000006" x2="1058.7" y2="319.4750000000001" stroke="#1a1a1a" stroke-width="1.7"/>
<text x="1080.5" y="342.41" font-family="Liberation Mono" font-size="13" text-anchor="middle" fill="#1a1a1a">5</text>
<line x1="1057" y1="338.125" x2="1063.7" y2="338.125" stroke="#1a1a1a" stroke-width="1.7"/>
<line x1="1052.3" y1="334.925" x2="1058.7" y2="341.325" stroke="#1a1a1a" stroke-width="1.7"/>
<line x1="1052.3" y1="341.325" x2="1058.7" y2="334.925" stroke="#1a1a1a" stroke-width="1.7"/>
<text x="1080.5" y="357.86" font-family="Liberation Mono" font-size="13" text-anchor="middle" fill="#1a1a1a">6</text>
<line x1="1057" y1="353.57500000000005" x2="1063.7" y2="353.57500000000005" stroke="#1a1a1a" stroke-width="1.7"/>
<line x1="1052.3" y1="350.37500000000006" x2="1058.7" y2="356.77500000000003" stroke="#1a1a1a" stroke-width="1.7"/>
<line x1="1052.3" y1="356.77500000000003" x2="1058.7" y2="350.37500000000006" stroke="#1a1a1a" stroke-width="1.7"/>
<text x="1080.5" y="373.31" font-family="Liberation Mono" font-size="13" text-anchor="middle" fill="#1a1a1a">7</text>
<text x="1097.5" y="373.625" font-family="Liberation Sans" font-size="12.5" text-anchor="start" font-style="italic" textLength="82" lengthAdjust="spacingAndGlyphs" style="stroke-width:0.5px" fill="#1a1a1a">сброс инд.ТО</text>
<text x="1080.5" y="388.76" font-family="Liberation Mono" font-size="13" text-anchor="middle" fill="#1a1a1a">8</text>
<line x1="1057" y1="384.475" x2="1063.7" y2="384.475" stroke="#1a1a1a" stroke-width="1.7"/>
<line x1="1052.3" y1="381.27500000000003" x2="1058.7" y2="387.675" stroke="#1a1a1a" stroke-width="1.7"/>
<line x1="1052.3" y1="387.675" x2="1058.7" y2="381.27500000000003" stroke="#1a1a1a" stroke-width="1.7"/>
<text x="1080.5" y="404.21" font-family="Liberation Mono" font-size="13" text-anchor="middle" fill="#1a1a1a">9</text>
<line x1="1057" y1="399.925" x2="1063.7" y2="399.925" stroke="#1a1a1a" stroke-width="1.7"/>
<line x1="1052.3" y1="396.725" x2="1058.7" y2="403.125" stroke="#1a1a1a" stroke-width="1.7"/>
<line x1="1052.3" y1="403.125" x2="1058.7" y2="396.725" stroke="#1a1a1a" stroke-width="1.7"/>
<text x="1080.5" y="419.66" font-family="Liberation Mono" font-size="13" text-anchor="middle" fill="#1a1a1a">10</text>
<line x1="1057" y1="415.375" x2="1063.7" y2="415.375" stroke="#1a1a1a" stroke-width="1.7"/>
<line x1="1052.3" y1="412.175" x2="1058.7" y2="418.575" stroke="#1a1a1a" stroke-width="1.7"/>
<line x1="1052.3" y1="418.575" x2="1058.7" y2="412.175" stroke="#1a1a1a" stroke-width="1.7"/>
<text x="1080.5" y="435.11" font-family="Liberation Mono" font-size="13" text-anchor="middle" fill="#1a1a1a">11</text>
<line x1="1057" y1="430.82500000000005" x2="1063.7" y2="430.82500000000005" stroke="#1a1a1a" stroke-width="1.7"/>
<line x1="1052.3" y1="427.62500000000006" x2="1058.7" y2="434.02500000000003" stroke="#1a1a1a" stroke-width="1.7"/>
<line x1="1052.3" y1="434.02500000000003" x2="1058.7" y2="427.62500000000006" stroke="#1a1a1a" stroke-width="1.7"/>
<text x="1080.5" y="450.56" font-family="Liberation Mono" font-size="13" text-anchor="middle" fill="#1a1a1a">12</text>
<line x1="1057" y1="446.275" x2="1063.7" y2="446.275" stroke="#1a1a1a" stroke-width="1.7"/>
<line x1="1052.3" y1="443.075" x2="1058.7" y2="449.47499999999997" stroke="#1a1a1a" stroke-width="1.7"/>
<line x1="1052.3" y1="449.47499999999997" x2="1058.7" y2="443.075" stroke="#1a1a1a" stroke-width="1.7"/>
<text x="1080.5" y="466.01" font-family="Liberation Mono" font-size="13" text-anchor="middle" fill="#1a1a1a">13</text>
<line x1="1057" y1="461.725" x2="1063.7" y2="461.725" stroke="#1a1a1a" stroke-width="1.7"/>
<line x1="1052.3" y1="458.52500000000003" x2="1058.7" y2="464.925" stroke="#1a1a1a" stroke-width="1.7"/>
<line x1="1052.3" y1="464.925" x2="1058.7" y2="458.52500000000003" stroke="#1a1a1a" stroke-width="1.7"/>
<text x="1080.5" y="481.46" font-family="Liberation Mono" font-size="13" text-anchor="middle" fill="#1a1a1a">14</text>
<text x="1103.9" y="481.77500000000003" font-family="Liberation Sans" font-size="12.5" text-anchor="start" font-style="italic" textLength="56.7" lengthAdjust="spacingAndGlyphs" style="stroke-width:0.5px" fill="#1a1a1a">вывод 30</text>
<text x="1080.5" y="496.91" font-family="Liberation Mono" font-size="13" text-anchor="middle" fill="#1a1a1a">15</text>
<text x="1108.2" y="497.225" font-family="Liberation Sans" font-size="12.5" text-anchor="start" font-style="italic" textLength="46.3" lengthAdjust="spacingAndGlyphs" style="stroke-width:0.5px" fill="#1a1a1a">RXD (L)</text>
<text x="1080.5" y="512.36" font-family="Liberation Mono" font-size="13" text-anchor="middle" fill="#1a1a1a">16</text>
<text x="1106.3" y="512.675" font-family="Liberation Sans" font-size="12.5" text-anchor="start" font-style="italic" textLength="57.3" lengthAdjust="spacingAndGlyphs" style="stroke-width:0.5px" fill="#1a1a1a">вывод 15</text>
<text x="1080.5" y="527.81" font-family="Liberation Mono" font-size="13" text-anchor="middle" fill="#1a1a1a">17</text>
<text x="1110" y="528.125" font-family="Liberation Sans" font-size="12.5" text-anchor="start" font-style="italic" textLength="45.1" lengthAdjust="spacingAndGlyphs" style="stroke-width:0.5px" fill="#1a1a1a">TXD (K)</text>
<text x="1080.5" y="543.26" font-family="Liberation Mono" font-size="13" text-anchor="middle" fill="#1a1a1a">18</text>
<text x="1096.6" y="543.575" font-family="Liberation Sans" font-size="12.5" text-anchor="start" font-style="italic" textLength="76.8" lengthAdjust="spacingAndGlyphs" style="stroke-width:0.5px" fill="#1a1a1a">напр. прогр.</text>
<text x="1080.5" y="558.71" font-family="Liberation Mono" font-size="13" text-anchor="middle" fill="#1a1a1a">19</text>
<text x="1107.6" y="559.0250000000001" font-family="Liberation Sans" font-size="12.5" text-anchor="start" font-style="italic" textLength="42.6" lengthAdjust="spacingAndGlyphs" style="stroke-width:0.5px" fill="#1a1a1a">корпус</text>
<text x="1080.5" y="574.16" font-family="Liberation Mono" font-size="13" text-anchor="middle" fill="#1a1a1a">20</text>
<text x="1108.2" y="574.475" font-family="Liberation Sans" font-size="12.5" text-anchor="start" font-style="italic" textLength="46.3" lengthAdjust="spacingAndGlyphs" style="stroke-width:0.5px" fill="#1a1a1a">TXD (K)</text>
<text x="1012" y="602.2" font-family="Liberation Sans" font-size="17" text-anchor="start" font-style="italic" textLength="151.5" lengthAdjust="spacingAndGlyphs" style="stroke-width:0.7px" fill="#1a1a1a">Диагностический</text>
<text x="1057.7" y="622.7" font-family="Liberation Sans" font-size="17" text-anchor="start" font-style="italic" textLength="60.8" lengthAdjust="spacingAndGlyphs" style="stroke-width:0.7px" fill="#1a1a1a">разъем</text>
</svg></body></html>
